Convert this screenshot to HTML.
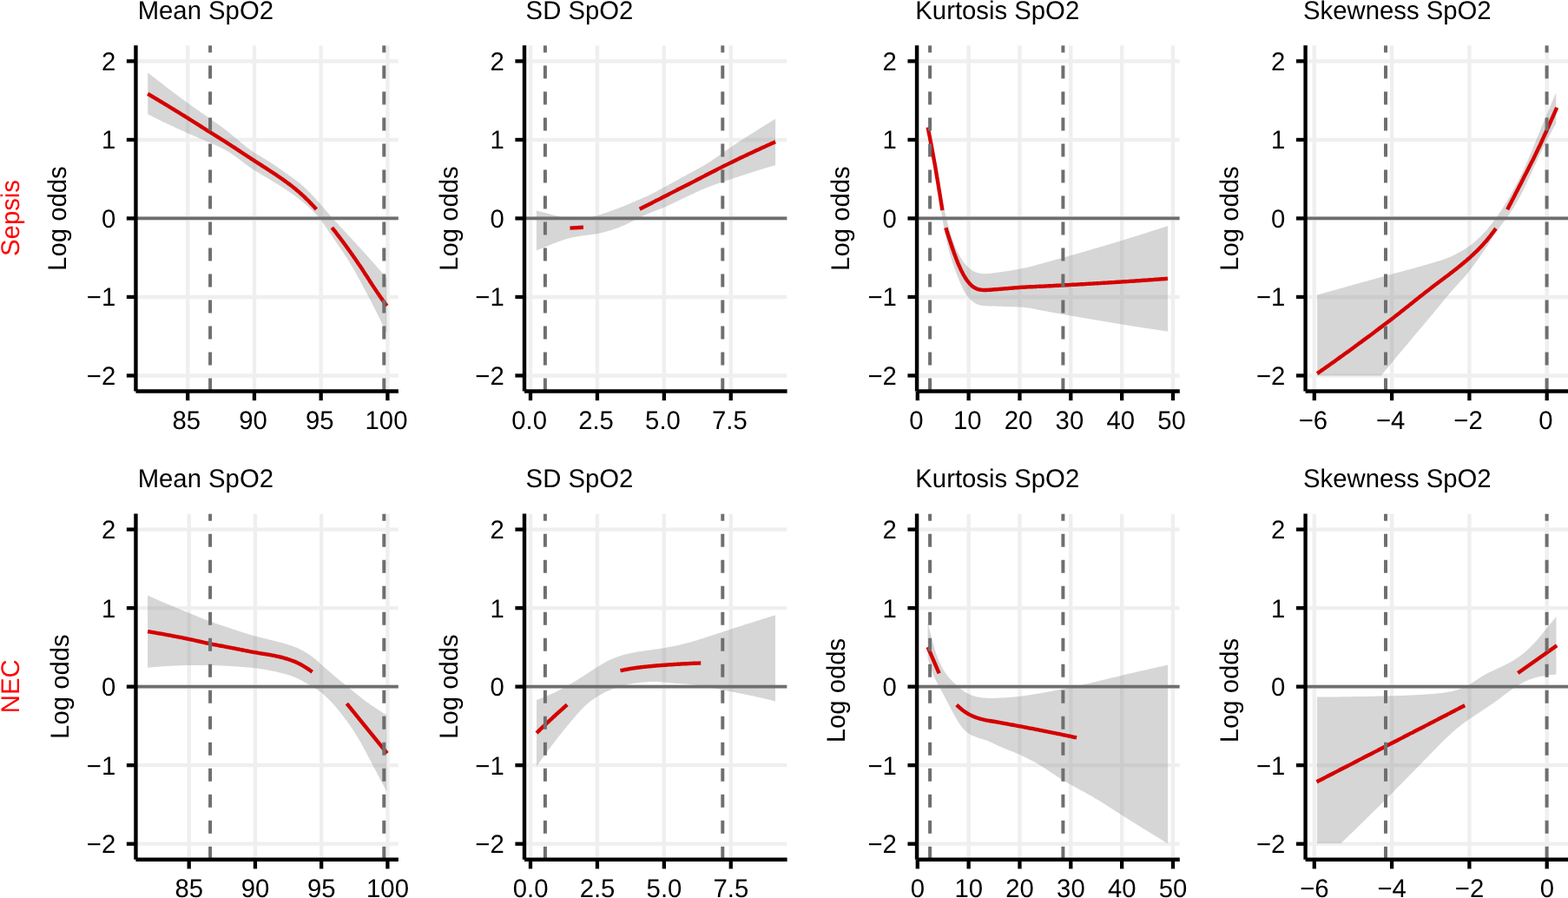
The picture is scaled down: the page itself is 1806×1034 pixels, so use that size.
<!DOCTYPE html>
<html><head><meta charset="utf-8"><style>html,body{margin:0;padding:0;background:#fff;overflow:hidden}svg{display:block}</style></head><body>
<svg width="1806" height="1034" viewBox="0 0 1806 1034">
<rect width="1806" height="1034" fill="#fff"/>
<g font-family="&quot;Liberation Sans&quot;, Arial, Helvetica, sans-serif" font-size="29.3" text-rendering="geometricPrecision">
<text transform="translate(22.4 250.95) rotate(-90) scale(1 1.015)" text-anchor="middle" fill="#FF0000">Sepsis</text>
<g>
<clipPath id="cr0p0"><rect x="156.45" y="52.33" width="302.45" height="398.24"/></clipPath>
<g clip-path="url(#cr0p0)">
<line x1="156.45" x2="458.9" y1="432.47" y2="432.47" stroke="#EFEFEF" stroke-width="4.4"/>
<line x1="156.45" x2="458.9" y1="341.96" y2="341.96" stroke="#EFEFEF" stroke-width="4.4"/>
<line x1="156.45" x2="458.9" y1="251.45" y2="251.45" stroke="#EFEFEF" stroke-width="4.4"/>
<line x1="156.45" x2="458.9" y1="160.94" y2="160.94" stroke="#EFEFEF" stroke-width="4.4"/>
<line x1="156.45" x2="458.9" y1="70.43" y2="70.43" stroke="#EFEFEF" stroke-width="4.4"/>
<line x1="216.2" x2="216.2" y1="52.33" y2="450.57" stroke="#EFEFEF" stroke-width="4.4"/>
<line x1="292.94" x2="292.94" y1="52.33" y2="450.57" stroke="#EFEFEF" stroke-width="4.4"/>
<line x1="369.67" x2="369.67" y1="52.33" y2="450.57" stroke="#EFEFEF" stroke-width="4.4"/>
<line x1="446.4" x2="446.4" y1="52.33" y2="450.57" stroke="#EFEFEF" stroke-width="4.4"/>
<path d="M170.2 83.5 L171.2 84.3 L172.2 85.1 L173.2 85.9 L174.2 86.7 L175.2 87.5 L176.2 88.2 L177.2 89 L178.2 89.8 L179.2 90.6 L180.2 91.4 L181.2 92.2 L182.2 93 L183.2 93.7 L184.2 94.5 L185.2 95.3 L186.2 96.1 L187.2 96.8 L188.2 97.6 L189.2 98.4 L190.2 99.1 L191.2 99.9 L192.2 100.7 L193.2 101.4 L194.2 102.2 L195.2 102.9 L196.2 103.7 L197.2 104.5 L198.2 105.2 L199.2 106 L200.2 106.7 L201.2 107.5 L202.2 108.2 L203.2 109 L204.2 109.7 L205.2 110.5 L206.2 111.2 L207.2 111.9 L208.2 112.7 L209.2 113.4 L210.2 114.2 L211.2 114.9 L212.2 115.6 L213.2 116.4 L214.2 117.1 L215.2 117.8 L216.2 118.6 L217.2 119.3 L218.2 120 L219.2 120.7 L220.2 121.4 L221.2 122.2 L222.2 122.9 L223.2 123.6 L224.2 124.3 L225.2 125 L226.2 125.7 L227.2 126.4 L228.2 127.1 L229.2 127.8 L230.2 128.5 L231.2 129.2 L232.2 129.9 L233.2 130.6 L234.2 131.3 L235.2 132 L236.2 132.7 L237.2 133.4 L238.2 134.1 L239.2 134.8 L240.2 135.5 L241.2 136.2 L242.2 136.9 L243.2 137.6 L244.2 138.3 L245.2 139 L246.2 139.7 L247.2 140.4 L248.2 141.1 L249.2 141.8 L250.2 142.5 L251.2 143.2 L252.2 143.9 L253.2 144.6 L254.2 145.4 L255.2 146.1 L256.2 146.8 L257.2 147.5 L258.2 148.3 L259.2 149 L260.2 149.8 L261.2 150.6 L262.2 151.3 L263.2 152.1 L264.2 152.9 L265.2 153.7 L266.2 154.6 L267.2 155.4 L268.2 156.2 L269.2 157 L270.2 157.9 L271.2 158.7 L272.2 159.6 L273.2 160.4 L274.2 161.3 L275.2 162.1 L276.2 163 L277.2 163.8 L278.2 164.7 L279.2 165.5 L280.2 166.3 L281.2 167.1 L282.2 167.9 L283.2 168.7 L284.2 169.5 L285.2 170.3 L286.2 171 L287.2 171.8 L288.2 172.5 L289.2 173.2 L290.2 173.9 L291.2 174.6 L292.2 175.2 L293.2 175.9 L294.2 176.5 L295.2 177.1 L296.2 177.7 L297.2 178.3 L298.2 178.9 L299.2 179.5 L300.2 180.1 L301.2 180.7 L302.2 181.3 L303.2 181.9 L304.2 182.5 L305.2 183.1 L306.2 183.7 L307.2 184.3 L308.3 184.9 L309.3 185.6 L310.3 186.2 L311.3 186.9 L312.3 187.5 L313.3 188.2 L314.3 188.9 L315.3 189.5 L316.3 190.2 L317.3 190.9 L318.3 191.6 L319.3 192.3 L320.3 193 L321.3 193.7 L322.3 194.4 L323.3 195.1 L324.3 195.8 L325.3 196.5 L326.3 197.2 L327.3 198 L328.3 198.7 L329.3 199.4 L330.3 200.1 L331.3 200.8 L332.3 201.5 L333.3 202.2 L334.3 202.9 L335.3 203.6 L336.3 204.3 L337.3 205 L338.3 205.8 L339.3 206.5 L340.3 207.2 L341.3 208 L342.3 208.7 L343.3 209.5 L344.3 210.3 L345.3 211.1 L346.3 211.9 L347.3 212.8 L348.3 213.7 L349.3 214.5 L350.3 215.4 L351.3 216.4 L352.3 217.3 L353.3 218.3 L354.3 219.3 L355.3 220.3 L356.3 221.3 L357.3 222.3 L358.3 223.4 L359.3 224.4 L360.3 225.5 L361.3 226.5 L362.3 227.6 L363.3 228.7 L364.3 229.8 L365.3 230.9 L366.3 232 L367.3 233.1 L368.3 234.2 L369.3 235.4 L370.3 236.5 L371.3 237.6 L372.3 238.8 L373.3 239.9 L374.3 241.1 L375.3 242.2 L376.3 243.4 L377.3 244.6 L378.3 245.7 L379.3 246.9 L380.3 248.1 L381.3 249.2 L382.3 250.4 L383.3 251.5 L384.3 252.6 L385.3 253.7 L386.3 254.9 L387.3 256 L388.3 257.1 L389.3 258.1 L390.3 259.2 L391.3 260.3 L392.3 261.4 L393.3 262.4 L394.3 263.5 L395.3 264.6 L396.3 265.6 L397.3 266.7 L398.3 267.7 L399.3 268.8 L400.3 269.9 L401.3 271 L402.3 272 L403.3 273.1 L404.3 274.2 L405.3 275.3 L406.3 276.4 L407.3 277.5 L408.3 278.5 L409.3 279.6 L410.3 280.7 L411.3 281.8 L412.3 282.9 L413.3 284 L414.3 285.1 L415.3 286.2 L416.3 287.3 L417.3 288.4 L418.3 289.5 L419.3 290.6 L420.3 291.7 L421.3 292.8 L422.3 293.9 L423.3 295 L424.3 296.1 L425.3 297.2 L426.3 298.3 L427.3 299.4 L428.3 300.5 L429.3 301.7 L430.3 302.8 L431.3 303.9 L432.3 305.1 L433.3 306.2 L434.3 307.4 L435.3 308.5 L436.3 309.7 L437.3 310.8 L438.3 312 L439.3 313.2 L440.3 314.4 L441.3 315.5 L442.3 316.7 L443.3 317.9 L444.3 319.1 L445.3 320.3 L445.3 383.5 L444.3 381.4 L443.3 379.3 L442.3 377.2 L441.3 375.1 L440.3 373 L439.3 370.9 L438.3 368.8 L437.3 366.8 L436.3 364.7 L435.3 362.7 L434.3 360.7 L433.3 358.7 L432.3 356.7 L431.3 354.7 L430.3 352.8 L429.3 350.9 L428.3 348.9 L427.3 347 L426.3 345.1 L425.3 343.2 L424.3 341.3 L423.3 339.4 L422.3 337.6 L421.3 335.7 L420.3 333.8 L419.3 331.9 L418.3 330.1 L417.3 328.2 L416.3 326.3 L415.3 324.5 L414.3 322.6 L413.3 320.8 L412.3 318.9 L411.3 317.1 L410.3 315.3 L409.3 313.5 L408.3 311.7 L407.3 310 L406.3 308.3 L405.3 306.5 L404.3 304.9 L403.3 303.2 L402.3 301.6 L401.3 299.9 L400.3 298.3 L399.3 296.8 L398.3 295.2 L397.3 293.7 L396.3 292.2 L395.3 290.7 L394.3 289.2 L393.3 287.7 L392.3 286.3 L391.3 284.8 L390.3 283.4 L389.3 281.9 L388.3 280.5 L387.3 279.1 L386.3 277.6 L385.3 276.2 L384.3 274.8 L383.3 273.3 L382.3 271.8 L381.3 270.4 L380.3 268.9 L379.3 267.4 L378.3 265.9 L377.3 264.4 L376.3 262.9 L375.3 261.4 L374.3 259.9 L373.3 258.5 L372.3 257.1 L371.3 255.7 L370.3 254.4 L369.3 253.1 L368.3 251.8 L367.3 250.6 L366.3 249.4 L365.3 248.2 L364.3 247.1 L363.3 246 L362.3 245 L361.3 244 L360.3 242.9 L359.3 242 L358.3 241 L357.3 240.1 L356.3 239.1 L355.3 238.2 L354.3 237.3 L353.3 236.4 L352.3 235.6 L351.3 234.7 L350.3 233.9 L349.3 233 L348.3 232.2 L347.3 231.4 L346.3 230.6 L345.3 229.8 L344.3 229 L343.3 228.3 L342.3 227.5 L341.3 226.8 L340.3 226 L339.3 225.3 L338.3 224.6 L337.3 223.8 L336.3 223.1 L335.3 222.4 L334.3 221.7 L333.3 221 L332.3 220.3 L331.3 219.7 L330.3 219 L329.3 218.3 L328.3 217.7 L327.3 217 L326.3 216.3 L325.3 215.7 L324.3 215.1 L323.3 214.4 L322.3 213.8 L321.3 213.1 L320.3 212.5 L319.3 211.9 L318.3 211.3 L317.3 210.7 L316.3 210 L315.3 209.4 L314.3 208.8 L313.3 208.2 L312.3 207.6 L311.3 207 L310.3 206.4 L309.3 205.8 L308.3 205.2 L307.2 204.6 L306.2 204 L305.2 203.4 L304.2 202.8 L303.2 202.2 L302.2 201.6 L301.2 201 L300.2 200.4 L299.2 199.8 L298.2 199.2 L297.2 198.6 L296.2 198 L295.2 197.4 L294.2 196.8 L293.2 196.2 L292.2 195.5 L291.2 194.9 L290.2 194.2 L289.2 193.6 L288.2 192.9 L287.2 192.2 L286.2 191.5 L285.2 190.8 L284.2 190.1 L283.2 189.3 L282.2 188.6 L281.2 187.9 L280.2 187.1 L279.2 186.3 L278.2 185.6 L277.2 184.8 L276.2 184.1 L275.2 183.3 L274.2 182.5 L273.2 181.8 L272.2 181 L271.2 180.3 L270.2 179.6 L269.2 178.8 L268.2 178.1 L267.2 177.4 L266.2 176.8 L265.2 176.1 L264.2 175.4 L263.2 174.8 L262.2 174.2 L261.2 173.6 L260.2 173 L259.2 172.5 L258.2 171.9 L257.2 171.4 L256.2 170.9 L255.2 170.4 L254.2 169.9 L253.2 169.4 L252.2 168.9 L251.2 168.5 L250.2 168 L249.2 167.6 L248.2 167.1 L247.2 166.7 L246.2 166.3 L245.2 165.8 L244.2 165.4 L243.2 164.9 L242.2 164.5 L241.2 164.1 L240.2 163.6 L239.2 163.2 L238.2 162.8 L237.2 162.3 L236.2 161.9 L235.2 161.5 L234.2 161.1 L233.2 160.6 L232.2 160.2 L231.2 159.8 L230.2 159.4 L229.2 158.9 L228.2 158.5 L227.2 158.1 L226.2 157.7 L225.2 157.2 L224.2 156.8 L223.2 156.4 L222.2 156 L221.2 155.5 L220.2 155.1 L219.2 154.7 L218.2 154.2 L217.2 153.8 L216.2 153.3 L215.2 152.9 L214.2 152.4 L213.2 152 L212.2 151.5 L211.2 151.1 L210.2 150.6 L209.2 150.2 L208.2 149.7 L207.2 149.3 L206.2 148.8 L205.2 148.4 L204.2 147.9 L203.2 147.4 L202.2 147 L201.2 146.5 L200.2 146 L199.2 145.6 L198.2 145.1 L197.2 144.6 L196.2 144.2 L195.2 143.7 L194.2 143.2 L193.2 142.8 L192.2 142.3 L191.2 141.8 L190.2 141.3 L189.2 140.9 L188.2 140.4 L187.2 139.9 L186.2 139.4 L185.2 139 L184.2 138.5 L183.2 138 L182.2 137.5 L181.2 137 L180.2 136.5 L179.2 136 L178.2 135.6 L177.2 135.1 L176.2 134.6 L175.2 134.1 L174.2 133.6 L173.2 133.1 L172.2 132.6 L171.2 132.1 L170.2 131.6 Z" fill="#999999" fill-opacity="0.4"/>
<path d="M170.2 108 L171.2 108.6 L172.2 109.2 L173.2 109.8 L174.2 110.4 L175.2 111 L176.2 111.6 L177.2 112.2 L178.2 112.8 L179.2 113.4 L180.2 114 L181.2 114.6 L182.2 115.2 L183.2 115.8 L184.2 116.4 L185.2 117 L186.2 117.6 L187.2 118.2 L188.2 118.8 L189.2 119.4 L190.2 120 L191.2 120.6 L192.2 121.2 L193.2 121.8 L194.2 122.5 L195.2 123.1 L196.2 123.7 L197.2 124.3 L198.2 124.9 L199.2 125.5 L200.2 126.1 L201.2 126.7 L202.2 127.4 L203.3 128 L204.3 128.6 L205.3 129.2 L206.3 129.8 L207.3 130.4 L208.3 131.1 L209.3 131.7 L210.3 132.3 L211.3 132.9 L212.3 133.5 L213.3 134.1 L214.3 134.8 L215.3 135.4 L216.3 136 L217.3 136.6 L218.3 137.3 L219.3 137.9 L220.3 138.5 L221.3 139.2 L222.3 139.8 L223.3 140.4 L224.3 141 L225.3 141.7 L226.3 142.3 L227.3 142.9 L228.3 143.6 L229.3 144.2 L230.3 144.9 L231.3 145.5 L232.3 146.1 L233.3 146.8 L234.3 147.4 L235.3 148 L236.3 148.7 L237.3 149.3 L238.3 149.9 L239.3 150.6 L240.3 151.2 L241.3 151.8 L242.3 152.5 L243.3 153.1 L244.3 153.7 L245.3 154.3 L246.3 155 L247.3 155.6 L248.3 156.2 L249.3 156.8 L250.3 157.4 L251.3 158.1 L252.3 158.7 L253.3 159.3 L254.3 159.9 L255.3 160.6 L256.3 161.2 L257.3 161.8 L258.3 162.5 L259.3 163.1 L260.3 163.7 L261.3 164.4 L262.3 165 L263.3 165.7 L264.3 166.3 L265.3 167 L266.3 167.6 L267.4 168.3 L268.4 168.9 L269.4 169.6 L270.4 170.2 L271.4 170.9 L272.4 171.6 L273.4 172.2 L274.4 172.9 L275.4 173.6 L276.4 174.2 L277.4 174.9 L278.4 175.5 L279.4 176.2 L280.4 176.9 L281.4 177.5 L282.4 178.2 L283.4 178.8 L284.4 179.5 L285.4 180.2 L286.4 180.8 L287.4 181.5 L288.4 182.1 L289.4 182.8 L290.4 183.4 L291.4 184.1 L292.4 184.7 L293.4 185.4 L294.4 186 L295.4 186.7 L296.4 187.3 L297.4 187.9 L298.4 188.6 L299.4 189.2 L300.4 189.9 L301.4 190.5 L302.4 191.1 L303.4 191.8 L304.4 192.4 L305.4 193.1 L306.4 193.7 L307.4 194.4 L308.4 195 L309.4 195.7 L310.4 196.3 L311.4 197 L312.4 197.7 L313.4 198.3 L314.4 199 L315.4 199.6 L316.4 200.3 L317.4 201 L318.4 201.6 L319.4 202.3 L320.4 203 L321.4 203.7 L322.4 204.3 L323.4 205 L324.4 205.7 L325.4 206.4 L326.4 207.1 L327.4 207.9 L328.4 208.6 L329.4 209.3 L330.4 210.1 L331.4 210.8 L332.5 211.6 L333.5 212.3 L334.5 213.1 L335.5 213.8 L336.5 214.6 L337.5 215.4 L338.5 216.2 L339.5 217 L340.5 217.8 L341.5 218.7 L342.5 219.5 L343.5 220.4 L344.5 221.2 L345.5 222.1 L346.5 223 L347.5 223.9 L348.5 224.8 L349.5 225.7 L350.5 226.6 L351.5 227.6 L352.5 228.6 L353.5 229.5 L354.5 230.5 L355.5 231.5 L356.5 232.6 L357.5 233.6 L358.5 234.6 L359.5 235.7 L360.5 236.8 L361.5 237.8 L362.5 238.9 L363.5 240 L364.5 241.1" fill="none" stroke="#D40000" stroke-width="4.4"/>
<path d="M382.4 262 L383.4 263.3 L384.4 264.6 L385.4 265.9 L386.4 267.2 L387.4 268.5 L388.4 269.8 L389.4 271.1 L390.4 272.4 L391.4 273.7 L392.4 275 L393.4 276.4 L394.4 277.7 L395.4 279 L396.4 280.4 L397.4 281.8 L398.4 283.1 L399.4 284.5 L400.4 285.9 L401.4 287.3 L402.4 288.6 L403.4 290 L404.4 291.4 L405.4 292.9 L406.4 294.3 L407.4 295.7 L408.4 297.1 L409.4 298.6 L410.4 300.1 L411.4 301.5 L412.4 303 L413.4 304.5 L414.5 306 L415.5 307.5 L416.5 309 L417.5 310.5 L418.5 312.1 L419.5 313.6 L420.5 315.2 L421.5 316.7 L422.5 318.3 L423.5 319.8 L424.5 321.4 L425.5 322.9 L426.5 324.5 L427.5 326 L428.5 327.6 L429.5 329.1 L430.5 330.6 L431.5 332.1 L432.5 333.6 L433.5 335.1 L434.5 336.6 L435.5 338.1 L436.5 339.5 L437.5 341 L438.5 342.4 L439.5 343.9 L440.5 345.3 L441.5 346.7 L442.5 348.1 L443.5 349.5 L444.5 350.9 L445.5 352.3" fill="none" stroke="#D40000" stroke-width="4.4"/>
<line x1="156.45" x2="458.9" y1="251.45" y2="251.45" stroke="#6E6E6E" stroke-width="3.8"/>
<line x1="242.1" x2="242.1" y1="450.57" y2="52.33" stroke="#6F6F6F" stroke-width="4.0" stroke-dasharray="15 15"/>
<line x1="442.3" x2="442.3" y1="450.57" y2="52.33" stroke="#6F6F6F" stroke-width="4.0" stroke-dasharray="15 15"/>
</g>
<line x1="156.45" x2="156.45" y1="52.33" y2="450.57" stroke="#000" stroke-width="4.4"/>
<line x1="156.45" x2="458.9" y1="450.57" y2="450.57" stroke="#000" stroke-width="4.4"/>
<line x1="145.85" x2="156.45" y1="432.47" y2="432.47" stroke="#000" stroke-width="4.3"/>
<text transform="translate(133.2 442.87) scale(1 1.015)" text-anchor="end">−2</text>
<line x1="145.85" x2="156.45" y1="341.96" y2="341.96" stroke="#000" stroke-width="4.3"/>
<text transform="translate(133.2 352.36) scale(1 1.015)" text-anchor="end">−1</text>
<line x1="145.85" x2="156.45" y1="251.45" y2="251.45" stroke="#000" stroke-width="4.3"/>
<text transform="translate(133.2 261.85) scale(1 1.015)" text-anchor="end">0</text>
<line x1="145.85" x2="156.45" y1="160.94" y2="160.94" stroke="#000" stroke-width="4.3"/>
<text transform="translate(133.2 171.34) scale(1 1.015)" text-anchor="end">1</text>
<line x1="145.85" x2="156.45" y1="70.43" y2="70.43" stroke="#000" stroke-width="4.3"/>
<text transform="translate(133.2 80.83) scale(1 1.015)" text-anchor="end">2</text>
<line x1="216.2" x2="216.2" y1="450.57" y2="461.17" stroke="#000" stroke-width="4.3"/>
<text transform="translate(214.8 494) scale(1 1.015)" text-anchor="middle">85</text>
<line x1="292.94" x2="292.94" y1="450.57" y2="461.17" stroke="#000" stroke-width="4.3"/>
<text transform="translate(291.54 494) scale(1 1.015)" text-anchor="middle">90</text>
<line x1="369.67" x2="369.67" y1="450.57" y2="461.17" stroke="#000" stroke-width="4.3"/>
<text transform="translate(368.27 494) scale(1 1.015)" text-anchor="middle">95</text>
<line x1="446.4" x2="446.4" y1="450.57" y2="461.17" stroke="#000" stroke-width="4.3"/>
<text transform="translate(445 494) scale(1 1.015)" text-anchor="middle">100</text>
<text transform="translate(76.1 251.6) rotate(-90) scale(1 1.015)" text-anchor="middle">Log odds</text>
<text transform="translate(158.65 21.7) scale(1 1.015)">Mean SpO2</text>
</g>
<g>
<clipPath id="cr0p1"><rect x="604" y="52.33" width="302.6" height="398.24"/></clipPath>
<g clip-path="url(#cr0p1)">
<line x1="604" x2="906.6" y1="432.47" y2="432.47" stroke="#EFEFEF" stroke-width="4.4"/>
<line x1="604" x2="906.6" y1="341.96" y2="341.96" stroke="#EFEFEF" stroke-width="4.4"/>
<line x1="604" x2="906.6" y1="251.45" y2="251.45" stroke="#EFEFEF" stroke-width="4.4"/>
<line x1="604" x2="906.6" y1="160.94" y2="160.94" stroke="#EFEFEF" stroke-width="4.4"/>
<line x1="604" x2="906.6" y1="70.43" y2="70.43" stroke="#EFEFEF" stroke-width="4.4"/>
<line x1="611" x2="611" y1="52.33" y2="450.57" stroke="#EFEFEF" stroke-width="4.4"/>
<line x1="687.92" x2="687.92" y1="52.33" y2="450.57" stroke="#EFEFEF" stroke-width="4.4"/>
<line x1="764.85" x2="764.85" y1="52.33" y2="450.57" stroke="#EFEFEF" stroke-width="4.4"/>
<line x1="841.77" x2="841.77" y1="52.33" y2="450.57" stroke="#EFEFEF" stroke-width="4.4"/>
<path d="M617.9 242.4 L618.9 242.7 L619.9 242.9 L620.9 243.2 L621.9 243.5 L622.9 243.7 L623.9 244 L624.9 244.2 L625.9 244.5 L626.9 244.8 L627.9 245 L628.9 245.3 L629.9 245.6 L630.9 245.9 L631.9 246.1 L632.9 246.4 L633.9 246.7 L634.9 246.9 L635.9 247.2 L636.9 247.5 L637.9 247.7 L638.9 248 L639.9 248.2 L640.9 248.5 L641.9 248.7 L642.9 249 L643.9 249.2 L644.9 249.4 L645.9 249.6 L646.9 249.9 L647.9 250 L648.9 250.2 L649.9 250.4 L650.9 250.6 L651.9 250.7 L652.9 250.8 L653.9 250.9 L654.9 251 L655.9 251.1 L656.9 251.2 L657.9 251.2 L658.9 251.3 L659.9 251.3 L660.9 251.3 L661.9 251.4 L662.9 251.4 L663.9 251.4 L664.9 251.4 L665.9 251.4 L666.9 251.4 L667.9 251.4 L668.9 251.4 L669.9 251.3 L670.9 251.3 L671.9 251.2 L672.9 251.1 L673.9 251 L674.9 250.9 L675.9 250.8 L676.9 250.6 L677.9 250.5 L678.9 250.3 L679.9 250.1 L680.9 249.9 L681.9 249.7 L682.9 249.4 L683.9 249.2 L684.9 249 L685.9 248.7 L687 248.5 L688 248.2 L689 247.9 L690 247.6 L691 247.3 L692 247 L693 246.6 L694 246.3 L695 246 L696 245.6 L697 245.3 L698 244.9 L699 244.6 L700 244.2 L701 243.9 L702 243.5 L703 243.1 L704 242.8 L705 242.4 L706 242.1 L707 241.7 L708 241.3 L709 240.9 L710 240.6 L711 240.2 L712 239.8 L713 239.4 L714 239 L715 238.7 L716 238.3 L717 237.9 L718 237.5 L719 237.1 L720 236.7 L721 236.2 L722 235.8 L723 235.4 L724 235 L725 234.6 L726 234.1 L727 233.7 L728 233.3 L729 232.8 L730 232.4 L731 232 L732 231.5 L733 231.1 L734 230.7 L735 230.2 L736 229.8 L737 229.4 L738 229 L739 228.5 L740 228.1 L741 227.6 L742 227.2 L743 226.8 L744 226.3 L745 225.9 L746 225.4 L747 224.9 L748 224.4 L749 224 L750 223.5 L751 223 L752 222.5 L753 221.9 L754 221.4 L755 220.9 L756 220.4 L757 219.9 L758 219.3 L759 218.8 L760 218.2 L761 217.7 L762 217.2 L763 216.6 L764 216.1 L765 215.6 L766 215 L767 214.5 L768 213.9 L769 213.4 L770 212.8 L771 212.3 L772 211.8 L773 211.2 L774 210.7 L775 210.1 L776 209.6 L777 209 L778 208.5 L779 207.9 L780 207.4 L781 206.8 L782 206.3 L783 205.7 L784 205.2 L785 204.6 L786 204.1 L787 203.5 L788 203 L789 202.4 L790 201.9 L791 201.3 L792 200.8 L793 200.2 L794 199.7 L795 199.2 L796 198.6 L797 198.1 L798 197.5 L799 197 L800 196.5 L801 195.9 L802 195.4 L803 194.8 L804 194.3 L805 193.7 L806 193.2 L807 192.6 L808 192.1 L809 191.5 L810 190.9 L811 190.3 L812 189.7 L813 189.1 L814 188.5 L815 187.9 L816 187.3 L817 186.7 L818 186 L819 185.4 L820 184.7 L821 184 L822 183.3 L823 182.6 L824 181.9 L825.1 181.2 L826.1 180.5 L827.1 179.8 L828.1 179.1 L829.1 178.4 L830.1 177.7 L831.1 177 L832.1 176.2 L833.1 175.5 L834.1 174.8 L835.1 174.1 L836.1 173.4 L837.1 172.7 L838.1 172 L839.1 171.3 L840.1 170.6 L841.1 169.9 L842.1 169.3 L843.1 168.6 L844.1 167.9 L845.1 167.2 L846.1 166.6 L847.1 165.9 L848.1 165.3 L849.1 164.6 L850.1 164 L851.1 163.3 L852.1 162.6 L853.1 162 L854.1 161.3 L855.1 160.7 L856.1 160.1 L857.1 159.4 L858.1 158.8 L859.1 158.1 L860.1 157.5 L861.1 156.9 L862.1 156.2 L863.1 155.6 L864.1 154.9 L865.1 154.3 L866.1 153.7 L867.1 153 L868.1 152.4 L869.1 151.8 L870.1 151.1 L871.1 150.5 L872.1 149.9 L873.1 149.2 L874.1 148.6 L875.1 148 L876.1 147.4 L877.1 146.7 L878.1 146.1 L879.1 145.5 L880.1 144.9 L881.1 144.3 L882.1 143.6 L883.1 143 L884.1 142.4 L885.1 141.8 L886.1 141.2 L887.1 140.6 L888.1 140 L889.1 139.3 L890.1 138.7 L891.1 138.1 L892.1 137.5 L893.1 136.9 L893.1 190.1 L892.1 190.4 L891.1 190.7 L890.1 191 L889.1 191.3 L888.1 191.6 L887.1 191.9 L886.1 192.2 L885.1 192.5 L884.1 192.8 L883.1 193.1 L882.1 193.4 L881.1 193.7 L880.1 194 L879.1 194.3 L878.1 194.6 L877.1 194.9 L876.1 195.3 L875.1 195.6 L874.1 195.9 L873.1 196.2 L872.1 196.5 L871.1 196.8 L870.1 197.1 L869.1 197.4 L868.1 197.8 L867.1 198.1 L866.1 198.4 L865.1 198.7 L864.1 199 L863.1 199.3 L862.1 199.7 L861.1 200 L860.1 200.3 L859.1 200.6 L858.1 200.9 L857.1 201.3 L856.1 201.6 L855.1 201.9 L854.1 202.2 L853.1 202.6 L852.1 202.9 L851.1 203.2 L850.1 203.6 L849.1 203.9 L848.1 204.2 L847.1 204.5 L846.1 204.9 L845.1 205.2 L844.1 205.5 L843.1 205.9 L842.1 206.2 L841.1 206.5 L840.1 206.9 L839.1 207.2 L838.1 207.6 L837.1 207.9 L836.1 208.2 L835.1 208.6 L834.1 208.9 L833.1 209.2 L832.1 209.6 L831.1 209.9 L830.1 210.2 L829.1 210.6 L828.1 210.9 L827.1 211.3 L826.1 211.6 L825.1 212 L824 212.3 L823 212.7 L822 213 L821 213.4 L820 213.8 L819 214.2 L818 214.5 L817 214.9 L816 215.3 L815 215.7 L814 216.1 L813 216.5 L812 216.9 L811 217.3 L810 217.8 L809 218.2 L808 218.6 L807 219.1 L806 219.5 L805 220 L804 220.4 L803 220.9 L802 221.3 L801 221.8 L800 222.3 L799 222.7 L798 223.2 L797 223.7 L796 224.1 L795 224.6 L794 225.1 L793 225.5 L792 226 L791 226.5 L790 226.9 L789 227.4 L788 227.9 L787 228.4 L786 228.9 L785 229.3 L784 229.8 L783 230.3 L782 230.8 L781 231.3 L780 231.8 L779 232.3 L778 232.8 L777 233.3 L776 233.7 L775 234.2 L774 234.7 L773 235.2 L772 235.6 L771 236.1 L770 236.6 L769 237 L768 237.5 L767 237.9 L766 238.3 L765 238.7 L764 239.2 L763 239.6 L762 240 L761 240.4 L760 240.7 L759 241.1 L758 241.5 L757 241.9 L756 242.3 L755 242.7 L754 243.1 L753 243.5 L752 243.9 L751 244.3 L750 244.7 L749 245.1 L748 245.5 L747 245.9 L746 246.4 L745 246.8 L744 247.3 L743 247.7 L742 248.2 L741 248.6 L740 249.1 L739 249.6 L738 250 L737 250.5 L736 251 L735 251.5 L734 252 L733 252.5 L732 253 L731 253.5 L730 254 L729 254.5 L728 255 L727 255.5 L726 256 L725 256.5 L724 257 L723 257.5 L722 258 L721 258.4 L720 258.9 L719 259.3 L718 259.8 L717 260.2 L716 260.6 L715 261 L714 261.4 L713 261.8 L712 262.2 L711 262.5 L710 262.9 L709 263.2 L708 263.6 L707 263.9 L706 264.2 L705 264.6 L704 264.9 L703 265.2 L702 265.5 L701 265.8 L700 266.1 L699 266.4 L698 266.7 L697 267 L696 267.2 L695 267.5 L694 267.7 L693 268 L692 268.2 L691 268.4 L690 268.7 L689 268.9 L688 269 L687 269.2 L685.9 269.4 L684.9 269.5 L683.9 269.7 L682.9 269.8 L681.9 270 L680.9 270.1 L679.9 270.2 L678.9 270.4 L677.9 270.5 L676.9 270.6 L675.9 270.8 L674.9 270.9 L673.9 271 L672.9 271.2 L671.9 271.3 L670.9 271.5 L669.9 271.6 L668.9 271.7 L667.9 271.9 L666.9 272 L665.9 272.2 L664.9 272.4 L663.9 272.5 L662.9 272.7 L661.9 272.9 L660.9 273.1 L659.9 273.3 L658.9 273.5 L657.9 273.7 L656.9 274 L655.9 274.2 L654.9 274.5 L653.9 274.8 L652.9 275.1 L651.9 275.4 L650.9 275.7 L649.9 276 L648.9 276.3 L647.9 276.6 L646.9 277 L645.9 277.3 L644.9 277.7 L643.9 278 L642.9 278.4 L641.9 278.7 L640.9 279.1 L639.9 279.5 L638.9 279.9 L637.9 280.2 L636.9 280.6 L635.9 281 L634.9 281.4 L633.9 281.8 L632.9 282.2 L631.9 282.7 L630.9 283.1 L629.9 283.5 L628.9 283.9 L627.9 284.3 L626.9 284.7 L625.9 285.1 L624.9 285.5 L623.9 286 L622.9 286.4 L621.9 286.8 L620.9 287.2 L619.9 287.7 L618.9 288.1 L617.9 288.5 Z" fill="#999999" fill-opacity="0.4"/>
<path d="M656.5 262.6 L671.9 261.7" fill="none" stroke="#D40000" stroke-width="4.4"/>
<path d="M736.7 240.8 L737.7 240.3 L738.7 239.8 L739.7 239.3 L740.7 238.8 L741.7 238.3 L742.7 237.7 L743.7 237.2 L744.7 236.7 L745.7 236.2 L746.7 235.7 L747.7 235.2 L748.7 234.7 L749.7 234.2 L750.7 233.7 L751.7 233.1 L752.7 232.6 L753.7 232.1 L754.7 231.6 L755.7 231.1 L756.8 230.6 L757.8 230.1 L758.8 229.6 L759.8 229.1 L760.8 228.6 L761.8 228 L762.8 227.5 L763.8 227 L764.8 226.5 L765.8 226 L766.8 225.5 L767.8 225 L768.8 224.5 L769.8 224 L770.8 223.4 L771.8 222.9 L772.8 222.4 L773.8 221.9 L774.8 221.4 L775.8 220.9 L776.8 220.4 L777.8 219.9 L778.8 219.4 L779.8 218.8 L780.8 218.3 L781.8 217.8 L782.8 217.3 L783.8 216.8 L784.8 216.3 L785.8 215.8 L786.8 215.3 L787.8 214.8 L788.8 214.2 L789.8 213.7 L790.8 213.2 L791.8 212.7 L792.8 212.2 L793.8 211.7 L794.8 211.2 L795.9 210.6 L796.9 210.1 L797.9 209.6 L798.9 209.1 L799.9 208.6 L800.9 208.1 L801.9 207.5 L802.9 207 L803.9 206.5 L804.9 206 L805.9 205.5 L806.9 205 L807.9 204.4 L808.9 203.9 L809.9 203.4 L810.9 202.9 L811.9 202.4 L812.9 201.8 L813.9 201.3 L814.9 200.8 L815.9 200.3 L816.9 199.8 L817.9 199.2 L818.9 198.7 L819.9 198.2 L820.9 197.7 L821.9 197.2 L822.9 196.7 L823.9 196.2 L824.9 195.7 L825.9 195.1 L826.9 194.6 L827.9 194.1 L828.9 193.6 L829.9 193.1 L830.9 192.6 L831.9 192.1 L832.9 191.6 L833.9 191.1 L835 190.6 L836 190.1 L837 189.6 L838 189.1 L839 188.6 L840 188.1 L841 187.6 L842 187.1 L843 186.7 L844 186.2 L845 185.7 L846 185.2 L847 184.7 L848 184.2 L849 183.7 L850 183.3 L851 182.8 L852 182.3 L853 181.8 L854 181.3 L855 180.9 L856 180.4 L857 179.9 L858 179.4 L859 179 L860 178.5 L861 178 L862 177.5 L863 177.1 L864 176.6 L865 176.1 L866 175.7 L867 175.2 L868 174.7 L869 174.3 L870 173.8 L871 173.3 L872 172.9 L873 172.4 L874.1 171.9 L875.1 171.5 L876.1 171 L877.1 170.5 L878.1 170.1 L879.1 169.6 L880.1 169.2 L881.1 168.7 L882.1 168.3 L883.1 167.8 L884.1 167.4 L885.1 166.9 L886.1 166.4 L887.1 166 L888.1 165.5 L889.1 165.1 L890.1 164.6 L891.1 164.2 L892.1 163.7 L893.1 163.3" fill="none" stroke="#D40000" stroke-width="4.4"/>
<line x1="604" x2="906.6" y1="251.45" y2="251.45" stroke="#6E6E6E" stroke-width="3.8"/>
<line x1="627.9" x2="627.9" y1="450.57" y2="52.33" stroke="#6F6F6F" stroke-width="4.0" stroke-dasharray="15 15"/>
<line x1="832.3" x2="832.3" y1="450.57" y2="52.33" stroke="#6F6F6F" stroke-width="4.0" stroke-dasharray="15 15"/>
</g>
<line x1="604" x2="604" y1="52.33" y2="450.57" stroke="#000" stroke-width="4.4"/>
<line x1="604" x2="906.6" y1="450.57" y2="450.57" stroke="#000" stroke-width="4.4"/>
<line x1="593.4" x2="604" y1="432.47" y2="432.47" stroke="#000" stroke-width="4.3"/>
<text transform="translate(580.75 442.87) scale(1 1.015)" text-anchor="end">−2</text>
<line x1="593.4" x2="604" y1="341.96" y2="341.96" stroke="#000" stroke-width="4.3"/>
<text transform="translate(580.75 352.36) scale(1 1.015)" text-anchor="end">−1</text>
<line x1="593.4" x2="604" y1="251.45" y2="251.45" stroke="#000" stroke-width="4.3"/>
<text transform="translate(580.75 261.85) scale(1 1.015)" text-anchor="end">0</text>
<line x1="593.4" x2="604" y1="160.94" y2="160.94" stroke="#000" stroke-width="4.3"/>
<text transform="translate(580.75 171.34) scale(1 1.015)" text-anchor="end">1</text>
<line x1="593.4" x2="604" y1="70.43" y2="70.43" stroke="#000" stroke-width="4.3"/>
<text transform="translate(580.75 80.83) scale(1 1.015)" text-anchor="end">2</text>
<line x1="611" x2="611" y1="450.57" y2="461.17" stroke="#000" stroke-width="4.3"/>
<text transform="translate(609.6 494) scale(1 1.015)" text-anchor="middle">0.0</text>
<line x1="687.92" x2="687.92" y1="450.57" y2="461.17" stroke="#000" stroke-width="4.3"/>
<text transform="translate(686.52 494) scale(1 1.015)" text-anchor="middle">2.5</text>
<line x1="764.85" x2="764.85" y1="450.57" y2="461.17" stroke="#000" stroke-width="4.3"/>
<text transform="translate(763.45 494) scale(1 1.015)" text-anchor="middle">5.0</text>
<line x1="841.77" x2="841.77" y1="450.57" y2="461.17" stroke="#000" stroke-width="4.3"/>
<text transform="translate(840.38 494) scale(1 1.015)" text-anchor="middle">7.5</text>
<text transform="translate(527.2 251.6) rotate(-90) scale(1 1.015)" text-anchor="middle">Log odds</text>
<text transform="translate(605.6 21.7) scale(1 1.015)">SD SpO2</text>
</g>
<g>
<clipPath id="cr0p2"><rect x="1056.05" y="52.33" width="302.75" height="398.24"/></clipPath>
<g clip-path="url(#cr0p2)">
<line x1="1056.05" x2="1358.8" y1="432.47" y2="432.47" stroke="#EFEFEF" stroke-width="4.4"/>
<line x1="1056.05" x2="1358.8" y1="341.96" y2="341.96" stroke="#EFEFEF" stroke-width="4.4"/>
<line x1="1056.05" x2="1358.8" y1="251.45" y2="251.45" stroke="#EFEFEF" stroke-width="4.4"/>
<line x1="1056.05" x2="1358.8" y1="160.94" y2="160.94" stroke="#EFEFEF" stroke-width="4.4"/>
<line x1="1056.05" x2="1358.8" y1="70.43" y2="70.43" stroke="#EFEFEF" stroke-width="4.4"/>
<line x1="1056.8" x2="1056.8" y1="52.33" y2="450.57" stroke="#EFEFEF" stroke-width="4.4"/>
<line x1="1115.64" x2="1115.64" y1="52.33" y2="450.57" stroke="#EFEFEF" stroke-width="4.4"/>
<line x1="1174.48" x2="1174.48" y1="52.33" y2="450.57" stroke="#EFEFEF" stroke-width="4.4"/>
<line x1="1233.32" x2="1233.32" y1="52.33" y2="450.57" stroke="#EFEFEF" stroke-width="4.4"/>
<line x1="1292.16" x2="1292.16" y1="52.33" y2="450.57" stroke="#EFEFEF" stroke-width="4.4"/>
<line x1="1351" x2="1351" y1="52.33" y2="450.57" stroke="#EFEFEF" stroke-width="4.4"/>
<path d="M1068.6 143.5 L1069.6 148.2 L1070.6 152.9 L1071.6 157.6 L1072.6 162.5 L1073.6 167.4 L1074.6 172.4 L1075.6 177.6 L1076.6 182.8 L1077.6 188.2 L1078.6 193.7 L1079.6 199.2 L1080.6 204.8 L1081.6 210.3 L1082.6 215.8 L1083.6 221.2 L1084.6 226.4 L1085.6 231.5 L1086.6 236.4 L1087.6 241 L1088.6 245.4 L1089.6 249.6 L1090.6 253.6 L1091.6 257.5 L1092.6 261.2 L1093.6 264.7 L1094.6 268.1 L1095.6 271.3 L1096.6 274.3 L1097.6 277.2 L1098.6 280 L1099.6 282.6 L1100.6 285 L1101.6 287.4 L1102.6 289.5 L1103.7 291.6 L1104.7 293.5 L1105.7 295.4 L1106.7 297.1 L1107.7 298.7 L1108.7 300.2 L1109.7 301.6 L1110.7 302.9 L1111.7 304.1 L1112.7 305.3 L1113.7 306.3 L1114.7 307.3 L1115.7 308.2 L1116.7 309.1 L1117.7 309.9 L1118.7 310.6 L1119.7 311.3 L1120.7 311.9 L1121.7 312.4 L1122.7 312.9 L1123.7 313.4 L1124.7 313.8 L1125.7 314.1 L1126.7 314.4 L1127.7 314.6 L1128.7 314.8 L1129.7 315 L1130.7 315.1 L1131.7 315.2 L1132.7 315.2 L1133.7 315.2 L1134.7 315.2 L1135.7 315.2 L1136.7 315.1 L1137.7 315.1 L1138.7 315 L1139.7 314.9 L1140.7 314.8 L1141.7 314.7 L1142.7 314.5 L1143.7 314.4 L1144.7 314.3 L1145.7 314.1 L1146.7 314 L1147.7 313.9 L1148.7 313.7 L1149.7 313.6 L1150.7 313.5 L1151.7 313.3 L1152.7 313.2 L1153.7 313 L1154.7 312.9 L1155.7 312.8 L1156.7 312.6 L1157.7 312.5 L1158.7 312.3 L1159.7 312.2 L1160.7 312 L1161.7 311.9 L1162.7 311.7 L1163.7 311.5 L1164.7 311.4 L1165.7 311.2 L1166.7 311 L1167.7 310.9 L1168.7 310.7 L1169.7 310.5 L1170.7 310.3 L1171.7 310.2 L1172.8 310 L1173.8 309.8 L1174.8 309.6 L1175.8 309.4 L1176.8 309.2 L1177.8 309 L1178.8 308.8 L1179.8 308.6 L1180.8 308.4 L1181.8 308.2 L1182.8 307.9 L1183.8 307.7 L1184.8 307.5 L1185.8 307.2 L1186.8 307 L1187.8 306.7 L1188.8 306.5 L1189.8 306.2 L1190.8 305.9 L1191.8 305.7 L1192.8 305.4 L1193.8 305.1 L1194.8 304.8 L1195.8 304.6 L1196.8 304.3 L1197.8 304 L1198.8 303.7 L1199.8 303.5 L1200.8 303.2 L1201.8 302.9 L1202.8 302.6 L1203.8 302.4 L1204.8 302.1 L1205.8 301.8 L1206.8 301.5 L1207.8 301.3 L1208.8 301 L1209.8 300.7 L1210.8 300.4 L1211.8 300.2 L1212.8 299.9 L1213.8 299.6 L1214.8 299.3 L1215.8 299 L1216.8 298.8 L1217.8 298.5 L1218.8 298.2 L1219.8 297.9 L1220.8 297.7 L1221.8 297.4 L1222.8 297.1 L1223.8 296.8 L1224.8 296.5 L1225.8 296.3 L1226.8 296 L1227.8 295.7 L1228.8 295.4 L1229.8 295.1 L1230.8 294.9 L1231.8 294.6 L1232.8 294.3 L1233.8 294 L1234.8 293.7 L1235.8 293.4 L1236.8 293.2 L1237.8 292.9 L1238.8 292.6 L1239.8 292.3 L1240.8 292 L1241.9 291.7 L1242.9 291.4 L1243.9 291.2 L1244.9 290.9 L1245.9 290.6 L1246.9 290.3 L1247.9 290 L1248.9 289.7 L1249.9 289.4 L1250.9 289.1 L1251.9 288.9 L1252.9 288.6 L1253.9 288.3 L1254.9 288 L1255.9 287.7 L1256.9 287.4 L1257.9 287.1 L1258.9 286.8 L1259.9 286.5 L1260.9 286.2 L1261.9 285.9 L1262.9 285.7 L1263.9 285.4 L1264.9 285.1 L1265.9 284.8 L1266.9 284.5 L1267.9 284.2 L1268.9 283.9 L1269.9 283.6 L1270.9 283.3 L1271.9 283 L1272.9 282.7 L1273.9 282.4 L1274.9 282.1 L1275.9 281.8 L1276.9 281.5 L1277.9 281.2 L1278.9 280.9 L1279.9 280.6 L1280.9 280.3 L1281.9 280 L1282.9 279.7 L1283.9 279.4 L1284.9 279.1 L1285.9 278.8 L1286.9 278.5 L1287.9 278.2 L1288.9 277.9 L1289.9 277.6 L1290.9 277.3 L1291.9 277 L1292.9 276.7 L1293.9 276.4 L1294.9 276.1 L1295.9 275.8 L1296.9 275.4 L1297.9 275.1 L1298.9 274.8 L1299.9 274.5 L1300.9 274.2 L1301.9 273.9 L1302.9 273.6 L1303.9 273.3 L1304.9 273 L1305.9 272.7 L1306.9 272.3 L1307.9 272 L1308.9 271.7 L1309.9 271.4 L1311 271.1 L1312 270.8 L1313 270.5 L1314 270.1 L1315 269.8 L1316 269.5 L1317 269.2 L1318 268.9 L1319 268.6 L1320 268.2 L1321 267.9 L1322 267.6 L1323 267.3 L1324 267 L1325 266.6 L1326 266.3 L1327 266 L1328 265.7 L1329 265.3 L1330 265 L1331 264.7 L1332 264.4 L1333 264 L1334 263.7 L1335 263.4 L1336 263.1 L1337 262.7 L1338 262.4 L1339 262.1 L1340 261.8 L1341 261.4 L1342 261.1 L1343 260.8 L1344 260.4 L1345 260.1 L1345 381.6 L1344 381.5 L1343 381.3 L1342 381.2 L1341 381 L1340 380.9 L1339 380.7 L1338 380.6 L1337 380.4 L1336 380.3 L1335 380.1 L1334 380 L1333 379.8 L1332 379.7 L1331 379.5 L1330 379.4 L1329 379.2 L1328 379.1 L1327 378.9 L1326 378.8 L1325 378.6 L1324 378.5 L1323 378.3 L1322 378.2 L1321 378 L1320 377.9 L1319 377.7 L1318 377.6 L1317 377.4 L1316 377.3 L1315 377.1 L1314 376.9 L1313 376.8 L1312 376.6 L1311 376.5 L1309.9 376.3 L1308.9 376.2 L1307.9 376 L1306.9 375.9 L1305.9 375.7 L1304.9 375.5 L1303.9 375.4 L1302.9 375.2 L1301.9 375.1 L1300.9 374.9 L1299.9 374.7 L1298.9 374.6 L1297.9 374.4 L1296.9 374.3 L1295.9 374.1 L1294.9 373.9 L1293.9 373.8 L1292.9 373.6 L1291.9 373.4 L1290.9 373.3 L1289.9 373.1 L1288.9 373 L1287.9 372.8 L1286.9 372.6 L1285.9 372.5 L1284.9 372.3 L1283.9 372.1 L1282.9 372 L1281.9 371.8 L1280.9 371.6 L1279.9 371.5 L1278.9 371.3 L1277.9 371.2 L1276.9 371 L1275.9 370.8 L1274.9 370.7 L1273.9 370.5 L1272.9 370.3 L1271.9 370.1 L1270.9 370 L1269.9 369.8 L1268.9 369.6 L1267.9 369.5 L1266.9 369.3 L1265.9 369.1 L1264.9 369 L1263.9 368.8 L1262.9 368.6 L1261.9 368.5 L1260.9 368.3 L1259.9 368.1 L1258.9 367.9 L1257.9 367.8 L1256.9 367.6 L1255.9 367.4 L1254.9 367.3 L1253.9 367.1 L1252.9 366.9 L1251.9 366.7 L1250.9 366.6 L1249.9 366.4 L1248.9 366.2 L1247.9 366.1 L1246.9 365.9 L1245.9 365.7 L1244.9 365.5 L1243.9 365.4 L1242.9 365.2 L1241.9 365 L1240.8 364.8 L1239.8 364.7 L1238.8 364.5 L1237.8 364.3 L1236.8 364.1 L1235.8 364 L1234.8 363.8 L1233.8 363.6 L1232.8 363.4 L1231.8 363.3 L1230.8 363.1 L1229.8 362.9 L1228.8 362.7 L1227.8 362.6 L1226.8 362.4 L1225.8 362.2 L1224.8 362 L1223.8 361.9 L1222.8 361.7 L1221.8 361.5 L1220.8 361.3 L1219.8 361.1 L1218.8 361 L1217.8 360.8 L1216.8 360.6 L1215.8 360.4 L1214.8 360.3 L1213.8 360.1 L1212.8 359.9 L1211.8 359.7 L1210.8 359.5 L1209.8 359.4 L1208.8 359.2 L1207.8 359 L1206.8 358.8 L1205.8 358.6 L1204.8 358.5 L1203.8 358.3 L1202.8 358.1 L1201.8 357.9 L1200.8 357.7 L1199.8 357.5 L1198.8 357.3 L1197.8 357.1 L1196.8 356.9 L1195.8 356.7 L1194.8 356.5 L1193.8 356.3 L1192.8 356.1 L1191.8 355.8 L1190.8 355.6 L1189.8 355.4 L1188.8 355.2 L1187.8 355 L1186.8 354.8 L1185.8 354.7 L1184.8 354.5 L1183.8 354.4 L1182.8 354.2 L1181.8 354.1 L1180.8 354 L1179.8 353.9 L1178.8 353.8 L1177.8 353.7 L1176.8 353.7 L1175.8 353.6 L1174.8 353.5 L1173.8 353.5 L1172.8 353.5 L1171.7 353.4 L1170.7 353.4 L1169.7 353.3 L1168.7 353.3 L1167.7 353.3 L1166.7 353.2 L1165.7 353.2 L1164.7 353.2 L1163.7 353.1 L1162.7 353.1 L1161.7 353.1 L1160.7 353 L1159.7 353 L1158.7 353 L1157.7 353 L1156.7 352.9 L1155.7 352.9 L1154.7 352.9 L1153.7 352.8 L1152.7 352.8 L1151.7 352.8 L1150.7 352.7 L1149.7 352.7 L1148.7 352.7 L1147.7 352.6 L1146.7 352.6 L1145.7 352.6 L1144.7 352.6 L1143.7 352.5 L1142.7 352.5 L1141.7 352.5 L1140.7 352.4 L1139.7 352.4 L1138.7 352.4 L1137.7 352.3 L1136.7 352.3 L1135.7 352.2 L1134.7 352.2 L1133.7 352.1 L1132.7 352 L1131.7 351.9 L1130.7 351.7 L1129.7 351.6 L1128.7 351.3 L1127.7 351.1 L1126.7 350.7 L1125.7 350.4 L1124.7 349.9 L1123.7 349.4 L1122.7 348.9 L1121.7 348.3 L1120.7 347.6 L1119.7 346.8 L1118.7 346 L1117.7 345.1 L1116.7 344.1 L1115.7 343 L1114.7 341.8 L1113.7 340.4 L1112.7 338.9 L1111.7 337.3 L1110.7 335.5 L1109.7 333.6 L1108.7 331.5 L1107.7 329.4 L1106.7 327.2 L1105.7 324.9 L1104.7 322.5 L1103.7 320.1 L1102.6 317.6 L1101.6 315 L1100.6 312.3 L1099.6 309.6 L1098.6 306.7 L1097.6 303.8 L1096.6 300.7 L1095.6 297.5 L1094.6 294.2 L1093.6 290.7 L1092.6 287 L1091.6 283 L1090.6 278.8 L1089.6 274.3 L1088.6 269.4 L1087.6 264.2 L1086.6 258.7 L1085.6 252.8 L1084.6 246.7 L1083.6 240.4 L1082.6 233.9 L1081.6 227.3 L1080.6 220.7 L1079.6 214.2 L1078.6 207.7 L1077.6 201.4 L1076.6 195.2 L1075.6 189.1 L1074.6 183.3 L1073.6 177.5 L1072.6 171.9 L1071.6 166.3 L1070.6 160.8 L1069.6 155.4 L1068.6 150 Z" fill="#999999" fill-opacity="0.4"/>
<path d="M1068.7 146.7 L1069.7 152 L1070.8 157.4 L1071.8 162.8 L1072.9 168.3 L1073.9 173.9 L1075 179.6 L1076 185.3 L1077.1 191.2 L1078.1 197.3 L1079.1 203.4 L1080.2 209.7 L1081.2 216 L1082.3 222.5 L1083.3 229 L1084.4 235.6 L1085.4 242.2" fill="none" stroke="#D40000" stroke-width="4.4"/>
<path d="M1089.3 262.2 L1090.3 265.3 L1091.3 268.5 L1092.3 271.6 L1093.3 274.7 L1094.3 277.8 L1095.3 280.8 L1096.3 283.8 L1097.3 286.7 L1098.3 289.6 L1099.3 292.4 L1100.3 295.1 L1101.3 297.7 L1102.3 300.3 L1103.3 302.8 L1104.3 305.1 L1105.3 307.4 L1106.3 309.6 L1107.3 311.7 L1108.4 313.8 L1109.4 315.7 L1110.4 317.5 L1111.4 319.2 L1112.4 320.8 L1113.4 322.3 L1114.4 323.7 L1115.4 324.9 L1116.4 326.1 L1117.4 327.2 L1118.4 328.2 L1119.4 329.1 L1120.4 329.9 L1121.4 330.6 L1122.4 331.2 L1123.4 331.8 L1124.4 332.2 L1125.4 332.7 L1126.4 333 L1127.4 333.3 L1128.4 333.5 L1129.4 333.7 L1130.4 333.9 L1131.4 333.9 L1132.4 334 L1133.4 334 L1134.4 334 L1135.4 334 L1136.4 334 L1137.4 333.9 L1138.4 333.9 L1139.4 333.8 L1140.4 333.7 L1141.4 333.7 L1142.4 333.6 L1143.4 333.5 L1144.5 333.4 L1145.5 333.3 L1146.5 333.3 L1147.5 333.2 L1148.5 333.1 L1149.5 333 L1150.5 332.9 L1151.5 332.9 L1152.5 332.8 L1153.5 332.7 L1154.5 332.6 L1155.5 332.5 L1156.5 332.4 L1157.5 332.4 L1158.5 332.3 L1159.5 332.2 L1160.5 332.1 L1161.5 332 L1162.5 331.9 L1163.5 331.9 L1164.5 331.8 L1165.5 331.7 L1166.5 331.6 L1167.5 331.5 L1168.5 331.4 L1169.5 331.4 L1170.5 331.3 L1171.5 331.2 L1172.5 331.1 L1173.5 331 L1174.5 331 L1175.5 330.9 L1176.5 330.8 L1177.5 330.8 L1178.5 330.7 L1179.5 330.7 L1180.5 330.6 L1181.6 330.5 L1182.6 330.5 L1183.6 330.4 L1184.6 330.4 L1185.6 330.3 L1186.6 330.3 L1187.6 330.2 L1188.6 330.2 L1189.6 330.2 L1190.6 330.1 L1191.6 330.1 L1192.6 330 L1193.6 330 L1194.6 329.9 L1195.6 329.9 L1196.6 329.8 L1197.6 329.8 L1198.6 329.8 L1199.6 329.7 L1200.6 329.7 L1201.6 329.6 L1202.6 329.6 L1203.6 329.5 L1204.6 329.5 L1205.6 329.4 L1206.6 329.4 L1207.6 329.3 L1208.6 329.3 L1209.6 329.2 L1210.6 329.2 L1211.6 329.1 L1212.6 329.1 L1213.6 329 L1214.6 329 L1215.6 328.9 L1216.6 328.8 L1217.7 328.8 L1218.7 328.7 L1219.7 328.7 L1220.7 328.6 L1221.7 328.6 L1222.7 328.5 L1223.7 328.5 L1224.7 328.4 L1225.7 328.4 L1226.7 328.3 L1227.7 328.3 L1228.7 328.2 L1229.7 328.2 L1230.7 328.1 L1231.7 328.1 L1232.7 328 L1233.7 327.9 L1234.7 327.9 L1235.7 327.8 L1236.7 327.8 L1237.7 327.7 L1238.7 327.7 L1239.7 327.6 L1240.7 327.6 L1241.7 327.5 L1242.7 327.4 L1243.7 327.4 L1244.7 327.3 L1245.7 327.3 L1246.7 327.2 L1247.7 327.2 L1248.7 327.1 L1249.7 327.1 L1250.7 327 L1251.7 326.9 L1252.7 326.9 L1253.8 326.8 L1254.8 326.8 L1255.8 326.7 L1256.8 326.6 L1257.8 326.6 L1258.8 326.5 L1259.8 326.5 L1260.8 326.4 L1261.8 326.4 L1262.8 326.3 L1263.8 326.2 L1264.8 326.2 L1265.8 326.1 L1266.8 326.1 L1267.8 326 L1268.8 325.9 L1269.8 325.9 L1270.8 325.8 L1271.8 325.8 L1272.8 325.7 L1273.8 325.6 L1274.8 325.6 L1275.8 325.5 L1276.8 325.5 L1277.8 325.4 L1278.8 325.3 L1279.8 325.3 L1280.8 325.2 L1281.8 325.1 L1282.8 325.1 L1283.8 325 L1284.8 325 L1285.8 324.9 L1286.8 324.8 L1287.8 324.8 L1288.8 324.7 L1289.8 324.6 L1290.9 324.6 L1291.9 324.5 L1292.9 324.4 L1293.9 324.4 L1294.9 324.3 L1295.9 324.2 L1296.9 324.2 L1297.9 324.1 L1298.9 324.1 L1299.9 324 L1300.9 323.9 L1301.9 323.9 L1302.9 323.8 L1303.9 323.7 L1304.9 323.7 L1305.9 323.6 L1306.9 323.5 L1307.9 323.5 L1308.9 323.4 L1309.9 323.3 L1310.9 323.2 L1311.9 323.2 L1312.9 323.1 L1313.9 323 L1314.9 323 L1315.9 322.9 L1316.9 322.8 L1317.9 322.8 L1318.9 322.7 L1319.9 322.6 L1320.9 322.6 L1321.9 322.5 L1322.9 322.4 L1323.9 322.3 L1324.9 322.3 L1325.9 322.2 L1327 322.1 L1328 322.1 L1329 322 L1330 321.9 L1331 321.8 L1332 321.8 L1333 321.7 L1334 321.6 L1335 321.5 L1336 321.5 L1337 321.4 L1338 321.3 L1339 321.2 L1340 321.2 L1341 321.1 L1342 321 L1343 321 L1344 320.9 L1345 320.8" fill="none" stroke="#D40000" stroke-width="4.4"/>
<line x1="1056.05" x2="1358.8" y1="251.45" y2="251.45" stroke="#6E6E6E" stroke-width="3.8"/>
<line x1="1071.1" x2="1071.1" y1="450.57" y2="52.33" stroke="#6F6F6F" stroke-width="4.0" stroke-dasharray="15 15"/>
<line x1="1224.4" x2="1224.4" y1="450.57" y2="52.33" stroke="#6F6F6F" stroke-width="4.0" stroke-dasharray="15 15"/>
</g>
<line x1="1056.05" x2="1056.05" y1="52.33" y2="450.57" stroke="#000" stroke-width="4.4"/>
<line x1="1056.05" x2="1358.8" y1="450.57" y2="450.57" stroke="#000" stroke-width="4.4"/>
<line x1="1045.45" x2="1056.05" y1="432.47" y2="432.47" stroke="#000" stroke-width="4.3"/>
<text transform="translate(1032.8 442.87) scale(1 1.015)" text-anchor="end">−2</text>
<line x1="1045.45" x2="1056.05" y1="341.96" y2="341.96" stroke="#000" stroke-width="4.3"/>
<text transform="translate(1032.8 352.36) scale(1 1.015)" text-anchor="end">−1</text>
<line x1="1045.45" x2="1056.05" y1="251.45" y2="251.45" stroke="#000" stroke-width="4.3"/>
<text transform="translate(1032.8 261.85) scale(1 1.015)" text-anchor="end">0</text>
<line x1="1045.45" x2="1056.05" y1="160.94" y2="160.94" stroke="#000" stroke-width="4.3"/>
<text transform="translate(1032.8 171.34) scale(1 1.015)" text-anchor="end">1</text>
<line x1="1045.45" x2="1056.05" y1="70.43" y2="70.43" stroke="#000" stroke-width="4.3"/>
<text transform="translate(1032.8 80.83) scale(1 1.015)" text-anchor="end">2</text>
<line x1="1056.8" x2="1056.8" y1="450.57" y2="461.17" stroke="#000" stroke-width="4.3"/>
<text transform="translate(1055.4 494) scale(1 1.015)" text-anchor="middle">0</text>
<line x1="1115.64" x2="1115.64" y1="450.57" y2="461.17" stroke="#000" stroke-width="4.3"/>
<text transform="translate(1114.24 494) scale(1 1.015)" text-anchor="middle">10</text>
<line x1="1174.48" x2="1174.48" y1="450.57" y2="461.17" stroke="#000" stroke-width="4.3"/>
<text transform="translate(1173.08 494) scale(1 1.015)" text-anchor="middle">20</text>
<line x1="1233.32" x2="1233.32" y1="450.57" y2="461.17" stroke="#000" stroke-width="4.3"/>
<text transform="translate(1231.92 494) scale(1 1.015)" text-anchor="middle">30</text>
<line x1="1292.16" x2="1292.16" y1="450.57" y2="461.17" stroke="#000" stroke-width="4.3"/>
<text transform="translate(1290.76 494) scale(1 1.015)" text-anchor="middle">40</text>
<line x1="1351" x2="1351" y1="450.57" y2="461.17" stroke="#000" stroke-width="4.3"/>
<text transform="translate(1349.6 494) scale(1 1.015)" text-anchor="middle">50</text>
<text transform="translate(977.9 251.6) rotate(-90) scale(1 1.015)" text-anchor="middle">Log odds</text>
<text transform="translate(1054.3 21.7) scale(1 1.015)">Kurtosis SpO2</text>
</g>
<g>
<clipPath id="cr0p3"><rect x="1503.6" y="52.33" width="304.4" height="398.24"/></clipPath>
<g clip-path="url(#cr0p3)">
<line x1="1503.6" x2="1808" y1="432.47" y2="432.47" stroke="#EFEFEF" stroke-width="4.4"/>
<line x1="1503.6" x2="1808" y1="341.96" y2="341.96" stroke="#EFEFEF" stroke-width="4.4"/>
<line x1="1503.6" x2="1808" y1="251.45" y2="251.45" stroke="#EFEFEF" stroke-width="4.4"/>
<line x1="1503.6" x2="1808" y1="160.94" y2="160.94" stroke="#EFEFEF" stroke-width="4.4"/>
<line x1="1503.6" x2="1808" y1="70.43" y2="70.43" stroke="#EFEFEF" stroke-width="4.4"/>
<line x1="1513.8" x2="1513.8" y1="52.33" y2="450.57" stroke="#EFEFEF" stroke-width="4.4"/>
<line x1="1603.1" x2="1603.1" y1="52.33" y2="450.57" stroke="#EFEFEF" stroke-width="4.4"/>
<line x1="1692.4" x2="1692.4" y1="52.33" y2="450.57" stroke="#EFEFEF" stroke-width="4.4"/>
<line x1="1781.7" x2="1781.7" y1="52.33" y2="450.57" stroke="#EFEFEF" stroke-width="4.4"/>
<path d="M1517.1 339.6 L1518.1 339.3 L1519.1 339 L1520.1 338.8 L1521.1 338.5 L1522.1 338.2 L1523.1 337.9 L1524.1 337.6 L1525.1 337.4 L1526.1 337.1 L1527.1 336.8 L1528.1 336.5 L1529.1 336.2 L1530.1 336 L1531.1 335.7 L1532.1 335.4 L1533.1 335.1 L1534.1 334.8 L1535.1 334.6 L1536.1 334.3 L1537.1 334 L1538.1 333.7 L1539.1 333.4 L1540.1 333.2 L1541.1 332.9 L1542.1 332.6 L1543.1 332.3 L1544.1 332 L1545.1 331.8 L1546.1 331.5 L1547.1 331.2 L1548.1 330.9 L1549.1 330.6 L1550.1 330.4 L1551.1 330.1 L1552.1 329.8 L1553.1 329.5 L1554.1 329.2 L1555.1 329 L1556.1 328.7 L1557.1 328.4 L1558.1 328.1 L1559.1 327.8 L1560.1 327.6 L1561.1 327.3 L1562.1 327 L1563.1 326.7 L1564.1 326.5 L1565.1 326.2 L1566.1 325.9 L1567.1 325.6 L1568.1 325.3 L1569.1 325.1 L1570.1 324.8 L1571.1 324.5 L1572.1 324.2 L1573.1 323.9 L1574.1 323.7 L1575.1 323.4 L1576.1 323.1 L1577.1 322.8 L1578.1 322.6 L1579.1 322.3 L1580.1 322 L1581.1 321.7 L1582.1 321.4 L1583.1 321.2 L1584.1 320.9 L1585.1 320.6 L1586.2 320.3 L1587.2 320.1 L1588.2 319.8 L1589.2 319.5 L1590.2 319.2 L1591.2 318.9 L1592.2 318.7 L1593.2 318.4 L1594.2 318.1 L1595.2 317.8 L1596.2 317.6 L1597.2 317.3 L1598.2 317 L1599.2 316.7 L1600.2 316.5 L1601.2 316.2 L1602.2 315.9 L1603.2 315.6 L1604.2 315.4 L1605.2 315.1 L1606.2 314.8 L1607.2 314.6 L1608.2 314.3 L1609.2 314 L1610.2 313.7 L1611.2 313.5 L1612.2 313.2 L1613.2 312.9 L1614.2 312.7 L1615.2 312.4 L1616.2 312.1 L1617.2 311.9 L1618.2 311.6 L1619.2 311.3 L1620.2 311.1 L1621.2 310.8 L1622.2 310.5 L1623.2 310.3 L1624.2 310 L1625.2 309.7 L1626.2 309.4 L1627.2 309.2 L1628.2 308.9 L1629.2 308.6 L1630.2 308.4 L1631.2 308.1 L1632.2 307.8 L1633.2 307.5 L1634.2 307.3 L1635.2 307 L1636.2 306.7 L1637.2 306.4 L1638.2 306.1 L1639.2 305.8 L1640.2 305.6 L1641.2 305.3 L1642.2 305 L1643.2 304.7 L1644.2 304.4 L1645.2 304.1 L1646.2 303.8 L1647.2 303.5 L1648.2 303.2 L1649.2 302.9 L1650.2 302.6 L1651.2 302.3 L1652.2 302 L1653.2 301.7 L1654.2 301.4 L1655.2 301.1 L1656.2 300.8 L1657.2 300.5 L1658.2 300.2 L1659.2 299.9 L1660.2 299.6 L1661.2 299.2 L1662.2 298.9 L1663.2 298.6 L1664.2 298.2 L1665.2 297.8 L1666.2 297.5 L1667.2 297.1 L1668.2 296.7 L1669.2 296.3 L1670.2 295.8 L1671.2 295.4 L1672.2 294.9 L1673.2 294.4 L1674.2 293.9 L1675.2 293.4 L1676.2 292.9 L1677.2 292.4 L1678.2 291.8 L1679.2 291.3 L1680.2 290.7 L1681.2 290.2 L1682.2 289.6 L1683.2 289 L1684.2 288.5 L1685.2 287.9 L1686.2 287.3 L1687.2 286.7 L1688.2 286.1 L1689.2 285.5 L1690.2 284.8 L1691.2 284.1 L1692.2 283.4 L1693.2 282.7 L1694.2 282 L1695.2 281.2 L1696.2 280.4 L1697.2 279.6 L1698.2 278.7 L1699.2 277.8 L1700.2 276.9 L1701.2 276 L1702.2 275.1 L1703.2 274.1 L1704.2 273.2 L1705.2 272.2 L1706.2 271.2 L1707.2 270.2 L1708.2 269.2 L1709.2 268.1 L1710.2 267.1 L1711.2 266 L1712.2 264.9 L1713.2 263.7 L1714.2 262.5 L1715.2 261.3 L1716.2 260.1 L1717.2 258.8 L1718.2 257.5 L1719.2 256.2 L1720.2 254.8 L1721.2 253.5 L1722.2 252.1 L1723.2 250.7 L1724.3 249.3 L1725.3 247.9 L1726.3 246.4 L1727.3 245 L1728.3 243.5 L1729.3 242 L1730.3 240.5 L1731.3 238.9 L1732.3 237.4 L1733.3 235.8 L1734.3 234.1 L1735.3 232.5 L1736.3 230.8 L1737.3 229.1 L1738.3 227.3 L1739.3 225.6 L1740.3 223.8 L1741.3 222 L1742.3 220.1 L1743.3 218.3 L1744.3 216.5 L1745.3 214.6 L1746.3 212.7 L1747.3 210.8 L1748.3 208.9 L1749.3 207 L1750.3 205 L1751.3 203.1 L1752.3 201 L1753.3 199 L1754.3 196.8 L1755.3 194.7 L1756.3 192.5 L1757.3 190.2 L1758.3 188 L1759.3 185.6 L1760.3 183.3 L1761.3 180.9 L1762.3 178.5 L1763.3 176.1 L1764.3 173.7 L1765.3 171.2 L1766.3 168.8 L1767.3 166.4 L1768.3 164 L1769.3 161.5 L1770.3 159.1 L1771.3 156.7 L1772.3 154.3 L1773.3 151.9 L1774.3 149.4 L1775.3 147 L1776.3 144.6 L1777.3 142.2 L1778.3 139.8 L1779.3 137.4 L1780.3 135 L1781.3 132.6 L1782.3 130.2 L1783.3 127.9 L1784.3 125.5 L1785.3 123.1 L1786.3 120.7 L1787.3 118.3 L1788.3 116 L1789.3 113.6 L1790.3 111.2 L1791.3 108.9 L1792.3 106.5 L1792.3 142 L1791.3 143.8 L1790.3 145.5 L1789.3 147.3 L1788.3 149.1 L1787.3 150.9 L1786.3 152.8 L1785.3 154.6 L1784.3 156.5 L1783.3 158.3 L1782.3 160.3 L1781.3 162.2 L1780.3 164.1 L1779.3 166.1 L1778.3 168.1 L1777.3 170.2 L1776.3 172.2 L1775.3 174.3 L1774.3 176.4 L1773.3 178.5 L1772.3 180.7 L1771.3 182.8 L1770.3 185 L1769.3 187.2 L1768.3 189.4 L1767.3 191.6 L1766.2 193.8 L1765.2 196 L1764.2 198.2 L1763.2 200.4 L1762.2 202.6 L1761.2 204.8 L1760.2 207 L1759.2 209.1 L1758.2 211.2 L1757.2 213.3 L1756.2 215.4 L1755.2 217.4 L1754.2 219.4 L1753.2 221.4 L1752.2 223.3 L1751.2 225.2 L1750.2 227.1 L1749.2 228.9 L1748.2 230.7 L1747.2 232.5 L1746.2 234.2 L1745.2 235.9 L1744.2 237.5 L1743.2 239.2 L1742.2 240.7 L1741.2 242.3 L1740.2 243.8 L1739.2 245.3 L1738.2 246.8 L1737.2 248.2 L1736.2 249.6 L1735.2 251 L1734.2 252.4 L1733.2 253.7 L1732.2 255 L1731.2 256.4 L1730.2 257.7 L1729.2 259 L1728.2 260.4 L1727.2 261.8 L1726.2 263.2 L1725.2 264.6 L1724.2 266.1 L1723.2 267.6 L1722.2 269.1 L1721.2 270.7 L1720.2 272.2 L1719.2 273.7 L1718.2 275.3 L1717.2 276.8 L1716.1 278.4 L1715.1 279.9 L1714.1 281.4 L1713.1 282.9 L1712.1 284.4 L1711.1 285.9 L1710.1 287.4 L1709.1 288.9 L1708.1 290.3 L1707.1 291.8 L1706.1 293.2 L1705.1 294.7 L1704.1 296.1 L1703.1 297.5 L1702.1 298.9 L1701.1 300.3 L1700.1 301.7 L1699.1 303.1 L1698.1 304.5 L1697.1 305.8 L1696.1 307.1 L1695.1 308.5 L1694.1 309.8 L1693.1 311 L1692.1 312.3 L1691.1 313.6 L1690.1 314.8 L1689.1 316 L1688.1 317.2 L1687.1 318.4 L1686.1 319.5 L1685.1 320.7 L1684.1 321.8 L1683.1 322.9 L1682.1 324 L1681.1 325.1 L1680.1 326.2 L1679.1 327.3 L1678.1 328.4 L1677.1 329.5 L1676.1 330.6 L1675.1 331.7 L1674.1 332.8 L1673.1 333.9 L1672.1 335 L1671.1 336.2 L1670.1 337.3 L1669.1 338.5 L1668.1 339.7 L1667.1 340.9 L1666 342.1 L1665 343.3 L1664 344.6 L1663 345.8 L1662 347 L1661 348.3 L1660 349.5 L1659 350.7 L1658 352 L1657 353.2 L1656 354.4 L1655 355.6 L1654 356.8 L1653 358.1 L1652 359.3 L1651 360.5 L1650 361.7 L1649 362.8 L1648 364 L1647 365.2 L1646 366.4 L1645 367.6 L1644 368.8 L1643 370 L1642 371.2 L1641 372.3 L1640 373.5 L1639 374.7 L1638 375.9 L1637 377.1 L1636 378.3 L1635 379.5 L1634 380.6 L1633 381.8 L1632 383 L1631 384.2 L1630 385.4 L1629 386.6 L1628 387.8 L1627 389 L1626 390.2 L1625 391.4 L1624 392.6 L1623 393.8 L1622 395 L1621 396.2 L1620 397.4 L1619 398.6 L1618 399.8 L1617 401 L1615.9 402.2 L1614.9 403.4 L1613.9 404.6 L1612.9 405.8 L1611.9 407 L1610.9 408.2 L1609.9 409.4 L1608.9 410.6 L1607.9 411.8 L1606.9 413.1 L1605.9 414.3 L1604.9 415.5 L1603.9 416.7 L1602.9 417.9 L1601.9 419.1 L1600.9 420.3 L1599.9 421.5 L1598.9 422.7 L1597.9 423.9 L1596.9 425.1 L1595.9 426.3 L1594.9 427.6 L1593.9 428.8 L1592.9 430 L1591.9 431.2 L1590.9 432.4 L1517.1 432.4 Z" fill="#999999" fill-opacity="0.4"/>
<path d="M1517.1 430.1 L1518.1 429.4 L1519.1 428.7 L1520.1 428 L1521.1 427.3 L1522.1 426.6 L1523.1 425.9 L1524.1 425.2 L1525.1 424.5 L1526.1 423.8 L1527.1 423.1 L1528.1 422.4 L1529.2 421.7 L1530.2 420.9 L1531.2 420.2 L1532.2 419.5 L1533.2 418.8 L1534.2 418.1 L1535.2 417.4 L1536.2 416.7 L1537.2 416 L1538.2 415.2 L1539.2 414.5 L1540.2 413.8 L1541.2 413.1 L1542.2 412.4 L1543.2 411.6 L1544.2 410.9 L1545.2 410.2 L1546.2 409.5 L1547.2 408.8 L1548.2 408 L1549.2 407.3 L1550.2 406.6 L1551.2 405.8 L1552.3 405.1 L1553.3 404.4 L1554.3 403.7 L1555.3 402.9 L1556.3 402.2 L1557.3 401.5 L1558.3 400.7 L1559.3 400 L1560.3 399.3 L1561.3 398.5 L1562.3 397.8 L1563.3 397.1 L1564.3 396.3 L1565.3 395.6 L1566.3 394.8 L1567.3 394.1 L1568.3 393.4 L1569.3 392.6 L1570.3 391.9 L1571.3 391.1 L1572.3 390.4 L1573.3 389.6 L1574.4 388.9 L1575.4 388.1 L1576.4 387.4 L1577.4 386.7 L1578.4 385.9 L1579.4 385.2 L1580.4 384.4 L1581.4 383.7 L1582.4 382.9 L1583.4 382.2 L1584.4 381.4 L1585.4 380.6 L1586.4 379.9 L1587.4 379.1 L1588.4 378.4 L1589.4 377.6 L1590.4 376.9 L1591.4 376.1 L1592.4 375.4 L1593.4 374.6 L1594.4 373.8 L1595.4 373.1 L1596.4 372.3 L1597.5 371.5 L1598.5 370.8 L1599.5 370 L1600.5 369.2 L1601.5 368.5 L1602.5 367.7 L1603.5 366.9 L1604.5 366.2 L1605.5 365.4 L1606.5 364.6 L1607.5 363.8 L1608.5 363 L1609.5 362.2 L1610.5 361.5 L1611.5 360.7 L1612.5 359.9 L1613.5 359.1 L1614.5 358.3 L1615.5 357.5 L1616.5 356.7 L1617.5 355.9 L1618.5 355.1 L1619.5 354.3 L1620.6 353.5 L1621.6 352.7 L1622.6 351.9 L1623.6 351.1 L1624.6 350.3 L1625.6 349.5 L1626.6 348.7 L1627.6 347.9 L1628.6 347.1 L1629.6 346.3 L1630.6 345.5 L1631.6 344.7 L1632.6 343.9 L1633.6 343.1 L1634.6 342.3 L1635.6 341.5 L1636.6 340.7 L1637.6 339.9 L1638.6 339.2 L1639.6 338.4 L1640.6 337.6 L1641.6 336.8 L1642.6 336 L1643.7 335.2 L1644.7 334.4 L1645.7 333.7 L1646.7 332.9 L1647.7 332.1 L1648.7 331.3 L1649.7 330.6 L1650.7 329.8 L1651.7 329 L1652.7 328.3 L1653.7 327.5 L1654.7 326.8 L1655.7 326 L1656.7 325.3 L1657.7 324.5 L1658.7 323.8 L1659.7 323 L1660.7 322.3 L1661.7 321.5 L1662.7 320.8 L1663.7 320 L1664.7 319.2 L1665.7 318.5 L1666.8 317.7 L1667.8 317 L1668.8 316.2 L1669.8 315.4 L1670.8 314.6 L1671.8 313.9 L1672.8 313.1 L1673.8 312.3 L1674.8 311.5 L1675.8 310.8 L1676.8 310 L1677.8 309.2 L1678.8 308.4 L1679.8 307.6 L1680.8 306.8 L1681.8 306 L1682.8 305.2 L1683.8 304.3 L1684.8 303.5 L1685.8 302.7 L1686.8 301.8 L1687.8 301 L1688.9 300.1 L1689.9 299.2 L1690.9 298.3 L1691.9 297.5 L1692.9 296.6 L1693.9 295.7 L1694.9 294.7 L1695.9 293.8 L1696.9 292.9 L1697.9 291.9 L1698.9 291 L1699.9 290 L1700.9 289.1 L1701.9 288.1 L1702.9 287.1 L1703.9 286 L1704.9 285 L1705.9 283.9 L1706.9 282.9 L1707.9 281.8 L1708.9 280.6 L1709.9 279.5 L1710.9 278.4 L1712 277.2 L1713 276 L1714 274.8 L1715 273.5 L1716 272.3 L1717 271 L1718 269.7 L1719 268.4 L1720 267.1 L1721 265.8 L1722 264.4 L1723 263.1" fill="none" stroke="#D40000" stroke-width="4.4"/>
<path d="M1736.1 241.3 L1737.1 239.4 L1738.1 237.5 L1739.1 235.6 L1740.1 233.7 L1741.1 231.7 L1742.1 229.8 L1743.1 227.9 L1744.1 226 L1745.1 224 L1746.1 222.1 L1747.1 220.2 L1748.1 218.2 L1749.1 216.3 L1750.1 214.3 L1751.1 212.4 L1752.1 210.4 L1753.1 208.5 L1754.1 206.5 L1755.1 204.6 L1756.1 202.6 L1757.1 200.6 L1758.1 198.7 L1759.1 196.7 L1760.1 194.7 L1761.1 192.7 L1762.1 190.7 L1763.1 188.7 L1764.1 186.7 L1765.2 184.7 L1766.2 182.7 L1767.2 180.7 L1768.2 178.6 L1769.2 176.6 L1770.2 174.5 L1771.2 172.4 L1772.2 170.3 L1773.2 168.2 L1774.2 166.1 L1775.2 163.9 L1776.2 161.8 L1777.2 159.6 L1778.2 157.4 L1779.2 155.2 L1780.2 153 L1781.2 150.8 L1782.2 148.5 L1783.2 146.3 L1784.2 144.1 L1785.2 141.8 L1786.2 139.6 L1787.2 137.3 L1788.2 135.1 L1789.2 132.8 L1790.2 130.6 L1791.2 128.3 L1792.2 126.1 L1793.2 123.8" fill="none" stroke="#D40000" stroke-width="4.4"/>
<line x1="1503.6" x2="1808" y1="251.45" y2="251.45" stroke="#6E6E6E" stroke-width="3.8"/>
<line x1="1596" x2="1596" y1="450.57" y2="52.33" stroke="#6F6F6F" stroke-width="4.0" stroke-dasharray="15 15"/>
<line x1="1781.6" x2="1781.6" y1="450.57" y2="52.33" stroke="#6F6F6F" stroke-width="4.0" stroke-dasharray="15 15"/>
</g>
<line x1="1503.6" x2="1503.6" y1="52.33" y2="450.57" stroke="#000" stroke-width="4.4"/>
<line x1="1503.6" x2="1808" y1="450.57" y2="450.57" stroke="#000" stroke-width="4.4"/>
<line x1="1493" x2="1503.6" y1="432.47" y2="432.47" stroke="#000" stroke-width="4.3"/>
<text transform="translate(1480.35 442.87) scale(1 1.015)" text-anchor="end">−2</text>
<line x1="1493" x2="1503.6" y1="341.96" y2="341.96" stroke="#000" stroke-width="4.3"/>
<text transform="translate(1480.35 352.36) scale(1 1.015)" text-anchor="end">−1</text>
<line x1="1493" x2="1503.6" y1="251.45" y2="251.45" stroke="#000" stroke-width="4.3"/>
<text transform="translate(1480.35 261.85) scale(1 1.015)" text-anchor="end">0</text>
<line x1="1493" x2="1503.6" y1="160.94" y2="160.94" stroke="#000" stroke-width="4.3"/>
<text transform="translate(1480.35 171.34) scale(1 1.015)" text-anchor="end">1</text>
<line x1="1493" x2="1503.6" y1="70.43" y2="70.43" stroke="#000" stroke-width="4.3"/>
<text transform="translate(1480.35 80.83) scale(1 1.015)" text-anchor="end">2</text>
<line x1="1513.8" x2="1513.8" y1="450.57" y2="461.17" stroke="#000" stroke-width="4.3"/>
<text transform="translate(1512.4 494) scale(1 1.015)" text-anchor="middle">−6</text>
<line x1="1603.1" x2="1603.1" y1="450.57" y2="461.17" stroke="#000" stroke-width="4.3"/>
<text transform="translate(1601.7 494) scale(1 1.015)" text-anchor="middle">−4</text>
<line x1="1692.4" x2="1692.4" y1="450.57" y2="461.17" stroke="#000" stroke-width="4.3"/>
<text transform="translate(1691 494) scale(1 1.015)" text-anchor="middle">−2</text>
<line x1="1781.7" x2="1781.7" y1="450.57" y2="461.17" stroke="#000" stroke-width="4.3"/>
<text transform="translate(1780.3 494) scale(1 1.015)" text-anchor="middle">0</text>
<text transform="translate(1426.3 251.6) rotate(-90) scale(1 1.015)" text-anchor="middle">Log odds</text>
<text transform="translate(1501 21.7) scale(1 1.015)">Skewness SpO2</text>
</g>
<text transform="translate(22.4 790.35) rotate(-90) scale(1 1.015)" text-anchor="middle" fill="#FF0000">NEC</text>
<g>
<clipPath id="cr1p0"><rect x="156.45" y="591.53" width="302.45" height="398.24"/></clipPath>
<g clip-path="url(#cr1p0)">
<line x1="156.45" x2="458.9" y1="971.67" y2="971.67" stroke="#EFEFEF" stroke-width="4.4"/>
<line x1="156.45" x2="458.9" y1="881.16" y2="881.16" stroke="#EFEFEF" stroke-width="4.4"/>
<line x1="156.45" x2="458.9" y1="790.65" y2="790.65" stroke="#EFEFEF" stroke-width="4.4"/>
<line x1="156.45" x2="458.9" y1="700.14" y2="700.14" stroke="#EFEFEF" stroke-width="4.4"/>
<line x1="156.45" x2="458.9" y1="609.63" y2="609.63" stroke="#EFEFEF" stroke-width="4.4"/>
<line x1="217.69" x2="217.69" y1="591.53" y2="989.77" stroke="#EFEFEF" stroke-width="4.4"/>
<line x1="293.93" x2="293.93" y1="591.53" y2="989.77" stroke="#EFEFEF" stroke-width="4.4"/>
<line x1="370.16" x2="370.16" y1="591.53" y2="989.77" stroke="#EFEFEF" stroke-width="4.4"/>
<line x1="446.4" x2="446.4" y1="591.53" y2="989.77" stroke="#EFEFEF" stroke-width="4.4"/>
<path d="M170.1 685.6 L171.1 686.1 L172.1 686.5 L173.1 686.9 L174.1 687.4 L175.1 687.8 L176.1 688.3 L177.1 688.7 L178.1 689.2 L179.1 689.6 L180.1 690.1 L181.1 690.5 L182.1 691 L183.1 691.4 L184.1 691.8 L185.1 692.3 L186.1 692.7 L187.1 693.1 L188.1 693.6 L189.1 694 L190.1 694.4 L191.1 694.8 L192.1 695.3 L193.1 695.7 L194.1 696.1 L195.1 696.5 L196.1 697 L197.1 697.4 L198.1 697.8 L199.1 698.2 L200.1 698.6 L201.1 699 L202.1 699.4 L203.1 699.9 L204.1 700.3 L205.1 700.7 L206.1 701.1 L207.1 701.5 L208.1 701.9 L209.1 702.3 L210.1 702.7 L211.1 703.1 L212.1 703.5 L213.1 703.9 L214.1 704.3 L215.1 704.7 L216.1 705.1 L217.1 705.6 L218.1 706 L219.1 706.4 L220.1 706.8 L221.1 707.2 L222.1 707.6 L223.1 708 L224.1 708.4 L225.1 708.8 L226.1 709.2 L227.1 709.7 L228.1 710.1 L229.1 710.5 L230.1 710.9 L231.1 711.3 L232.1 711.7 L233.1 712.1 L234.1 712.5 L235.1 712.9 L236.1 713.3 L237.1 713.7 L238.1 714 L239.2 714.4 L240.2 714.8 L241.2 715.2 L242.2 715.6 L243.2 715.9 L244.2 716.3 L245.2 716.6 L246.2 717 L247.2 717.4 L248.2 717.7 L249.2 718 L250.2 718.4 L251.2 718.7 L252.2 719.1 L253.2 719.4 L254.2 719.8 L255.2 720.1 L256.2 720.4 L257.2 720.8 L258.2 721.1 L259.2 721.4 L260.2 721.8 L261.2 722.1 L262.2 722.4 L263.2 722.8 L264.2 723.1 L265.2 723.4 L266.2 723.8 L267.2 724.1 L268.2 724.4 L269.2 724.8 L270.2 725.1 L271.2 725.4 L272.2 725.7 L273.2 726.1 L274.2 726.4 L275.2 726.7 L276.2 727.1 L277.2 727.4 L278.2 727.7 L279.2 728 L280.2 728.3 L281.2 728.7 L282.2 729 L283.2 729.3 L284.2 729.6 L285.2 729.9 L286.2 730.2 L287.2 730.5 L288.2 730.8 L289.2 731.1 L290.2 731.4 L291.2 731.7 L292.2 732 L293.2 732.2 L294.2 732.5 L295.2 732.8 L296.2 733.1 L297.2 733.3 L298.2 733.6 L299.2 733.8 L300.2 734.1 L301.2 734.3 L302.2 734.6 L303.2 734.8 L304.2 735.1 L305.2 735.3 L306.2 735.5 L307.2 735.8 L308.2 736 L309.2 736.2 L310.2 736.5 L311.2 736.7 L312.2 737 L313.2 737.2 L314.2 737.4 L315.2 737.7 L316.2 737.9 L317.2 738.2 L318.2 738.5 L319.2 738.7 L320.2 739 L321.2 739.2 L322.2 739.5 L323.2 739.8 L324.2 740 L325.2 740.3 L326.2 740.6 L327.2 740.9 L328.2 741.2 L329.2 741.5 L330.2 741.7 L331.2 742.1 L332.2 742.4 L333.2 742.7 L334.2 743 L335.2 743.3 L336.2 743.7 L337.2 744.1 L338.2 744.4 L339.2 744.8 L340.2 745.2 L341.2 745.6 L342.2 746.1 L343.2 746.5 L344.2 747 L345.2 747.5 L346.2 748 L347.2 748.5 L348.2 749 L349.2 749.6 L350.2 750.1 L351.2 750.7 L352.2 751.3 L353.2 751.9 L354.2 752.5 L355.2 753.2 L356.2 753.8 L357.2 754.5 L358.2 755.2 L359.2 756 L360.2 756.7 L361.2 757.5 L362.2 758.3 L363.2 759.1 L364.2 759.9 L365.2 760.8 L366.2 761.6 L367.2 762.5 L368.2 763.4 L369.2 764.3 L370.2 765.2 L371.2 766.1 L372.2 767 L373.2 767.9 L374.2 768.8 L375.2 769.7 L376.2 770.6 L377.3 771.4 L378.3 772.3 L379.3 773.2 L380.3 774.1 L381.3 774.9 L382.3 775.8 L383.3 776.7 L384.3 777.5 L385.3 778.4 L386.3 779.2 L387.3 780.1 L388.3 780.9 L389.3 781.7 L390.3 782.6 L391.3 783.4 L392.3 784.2 L393.3 785 L394.3 785.8 L395.3 786.6 L396.3 787.4 L397.3 788.2 L398.3 789 L399.3 789.8 L400.3 790.7 L401.3 791.5 L402.3 792.3 L403.3 793.1 L404.3 793.9 L405.3 794.7 L406.3 795.5 L407.3 796.3 L408.3 797.2 L409.3 798 L410.3 798.8 L411.3 799.6 L412.3 800.4 L413.3 801.2 L414.3 802 L415.3 802.8 L416.3 803.6 L417.3 804.4 L418.3 805.2 L419.3 805.9 L420.3 806.7 L421.3 807.4 L422.3 808.2 L423.3 808.9 L424.3 809.6 L425.3 810.3 L426.3 811 L427.3 811.7 L428.3 812.4 L429.3 813.1 L430.3 813.8 L431.3 814.5 L432.3 815.1 L433.3 815.8 L434.3 816.5 L435.3 817.1 L436.3 817.7 L437.3 818.4 L438.3 819 L439.3 819.6 L440.3 820.3 L441.3 820.9 L442.3 821.5 L443.3 822.1 L444.3 822.7 L445.3 823.3 L445.3 911.3 L444.3 909.4 L443.3 907.5 L442.3 905.6 L441.3 903.7 L440.3 901.8 L439.3 899.9 L438.3 898.1 L437.3 896.2 L436.3 894.3 L435.3 892.4 L434.3 890.5 L433.3 888.6 L432.3 886.7 L431.3 884.8 L430.3 882.9 L429.3 881 L428.3 879.1 L427.3 877.1 L426.3 875.2 L425.3 873.3 L424.3 871.4 L423.3 869.5 L422.3 867.6 L421.3 865.7 L420.3 863.8 L419.3 862 L418.3 860.1 L417.3 858.3 L416.3 856.5 L415.3 854.7 L414.3 853 L413.3 851.3 L412.3 849.6 L411.3 848 L410.3 846.4 L409.3 844.8 L408.3 843.2 L407.3 841.6 L406.3 840.1 L405.3 838.6 L404.3 837.1 L403.3 835.7 L402.3 834.3 L401.3 832.8 L400.3 831.4 L399.3 830.1 L398.3 828.7 L397.3 827.4 L396.3 826 L395.3 824.7 L394.3 823.4 L393.3 822.2 L392.3 820.9 L391.3 819.6 L390.3 818.4 L389.3 817.1 L388.3 815.9 L387.3 814.7 L386.3 813.5 L385.3 812.4 L384.3 811.2 L383.3 810.1 L382.3 809 L381.3 808 L380.3 806.9 L379.3 805.9 L378.3 804.9 L377.3 803.9 L376.2 802.9 L375.2 802 L374.2 801 L373.2 800.1 L372.2 799.3 L371.2 798.4 L370.2 797.6 L369.2 796.8 L368.2 796.1 L367.2 795.4 L366.2 794.7 L365.2 794 L364.2 793.3 L363.2 792.7 L362.2 792.1 L361.2 791.4 L360.2 790.8 L359.2 790.3 L358.2 789.7 L357.2 789.1 L356.2 788.5 L355.2 788 L354.2 787.4 L353.2 786.8 L352.2 786.3 L351.2 785.7 L350.2 785.2 L349.2 784.6 L348.2 784.1 L347.2 783.5 L346.2 783 L345.2 782.5 L344.2 781.9 L343.2 781.5 L342.2 781 L341.2 780.5 L340.2 780.1 L339.2 779.7 L338.2 779.3 L337.2 778.9 L336.2 778.5 L335.2 778.2 L334.2 777.8 L333.2 777.5 L332.2 777.2 L331.2 776.9 L330.2 776.6 L329.2 776.3 L328.2 776 L327.2 775.7 L326.2 775.5 L325.2 775.2 L324.2 774.9 L323.2 774.7 L322.2 774.5 L321.2 774.2 L320.2 774 L319.2 773.8 L318.2 773.5 L317.2 773.3 L316.2 773.1 L315.2 772.9 L314.2 772.7 L313.2 772.5 L312.2 772.3 L311.2 772.1 L310.2 771.9 L309.2 771.7 L308.2 771.5 L307.2 771.3 L306.2 771.1 L305.2 771 L304.2 770.8 L303.2 770.6 L302.2 770.5 L301.2 770.3 L300.2 770.2 L299.2 770 L298.2 769.9 L297.2 769.7 L296.2 769.6 L295.2 769.5 L294.2 769.4 L293.2 769.3 L292.2 769.1 L291.2 769 L290.2 768.9 L289.2 768.8 L288.2 768.7 L287.2 768.6 L286.2 768.5 L285.2 768.4 L284.2 768.4 L283.2 768.3 L282.2 768.2 L281.2 768.1 L280.2 768 L279.2 767.9 L278.2 767.9 L277.2 767.8 L276.2 767.7 L275.2 767.6 L274.2 767.6 L273.2 767.5 L272.2 767.4 L271.2 767.4 L270.2 767.3 L269.2 767.2 L268.2 767.2 L267.2 767.1 L266.2 767 L265.2 767 L264.2 766.9 L263.2 766.9 L262.2 766.8 L261.2 766.8 L260.2 766.7 L259.2 766.7 L258.2 766.6 L257.2 766.6 L256.2 766.5 L255.2 766.5 L254.2 766.4 L253.2 766.4 L252.2 766.3 L251.2 766.3 L250.2 766.2 L249.2 766.2 L248.2 766.2 L247.2 766.1 L246.2 766.1 L245.2 766.1 L244.2 766.1 L243.2 766 L242.2 766 L241.2 766 L240.2 766 L239.2 766 L238.1 766 L237.1 766 L236.1 766 L235.1 766 L234.1 766 L233.1 766 L232.1 766 L231.1 766 L230.1 766 L229.1 766 L228.1 766 L227.1 766 L226.1 766 L225.1 766 L224.1 766 L223.1 766 L222.1 766 L221.1 766 L220.1 766 L219.1 766 L218.1 766 L217.1 766 L216.1 766 L215.1 766.1 L214.1 766.1 L213.1 766.1 L212.1 766.1 L211.1 766.1 L210.1 766.2 L209.1 766.2 L208.1 766.2 L207.1 766.3 L206.1 766.3 L205.1 766.3 L204.1 766.4 L203.1 766.4 L202.1 766.5 L201.1 766.5 L200.1 766.6 L199.1 766.6 L198.1 766.7 L197.1 766.7 L196.1 766.8 L195.1 766.8 L194.1 766.9 L193.1 766.9 L192.1 767 L191.1 767.1 L190.1 767.1 L189.1 767.2 L188.1 767.3 L187.1 767.3 L186.1 767.4 L185.1 767.5 L184.1 767.5 L183.1 767.6 L182.1 767.7 L181.1 767.8 L180.1 767.9 L179.1 767.9 L178.1 768 L177.1 768.1 L176.1 768.2 L175.1 768.3 L174.1 768.4 L173.1 768.5 L172.1 768.6 L171.1 768.7 L170.1 768.8 Z" fill="#999999" fill-opacity="0.4"/>
<path d="M170.1 727.1 L171.1 727.3 L172.1 727.4 L173.1 727.6 L174.1 727.8 L175.1 727.9 L176.1 728.1 L177.1 728.3 L178.1 728.4 L179.1 728.6 L180.1 728.8 L181.1 729 L182.1 729.1 L183.1 729.3 L184.1 729.5 L185.1 729.7 L186.2 729.9 L187.2 730 L188.2 730.2 L189.2 730.4 L190.2 730.6 L191.2 730.8 L192.2 731 L193.2 731.1 L194.2 731.3 L195.2 731.5 L196.2 731.7 L197.2 731.9 L198.2 732.1 L199.2 732.3 L200.2 732.5 L201.2 732.7 L202.2 732.9 L203.2 733.1 L204.2 733.2 L205.2 733.4 L206.2 733.6 L207.2 733.8 L208.2 734 L209.2 734.2 L210.2 734.4 L211.2 734.6 L212.2 734.8 L213.2 735 L214.2 735.2 L215.2 735.5 L216.2 735.7 L217.2 735.9 L218.3 736.1 L219.3 736.3 L220.3 736.5 L221.3 736.7 L222.3 736.9 L223.3 737.2 L224.3 737.4 L225.3 737.6 L226.3 737.8 L227.3 738 L228.3 738.3 L229.3 738.5 L230.3 738.7 L231.3 739 L232.3 739.2 L233.3 739.4 L234.3 739.6 L235.3 739.9 L236.3 740.1 L237.3 740.3 L238.3 740.5 L239.3 740.7 L240.3 740.9 L241.3 741.1 L242.3 741.4 L243.3 741.6 L244.3 741.8 L245.3 742 L246.3 742.1 L247.3 742.3 L248.3 742.5 L249.4 742.7 L250.4 742.9 L251.4 743.1 L252.4 743.3 L253.4 743.5 L254.4 743.7 L255.4 743.8 L256.4 744 L257.4 744.2 L258.4 744.4 L259.4 744.6 L260.4 744.8 L261.4 745 L262.4 745.2 L263.4 745.4 L264.4 745.6 L265.4 745.8 L266.4 745.9 L267.4 746.1 L268.4 746.3 L269.4 746.5 L270.4 746.7 L271.4 746.9 L272.4 747.1 L273.4 747.3 L274.4 747.5 L275.4 747.7 L276.4 747.9 L277.4 748.1 L278.4 748.3 L279.4 748.5 L280.4 748.7 L281.5 748.9 L282.5 749.1 L283.5 749.3 L284.5 749.5 L285.5 749.7 L286.5 749.9 L287.5 750.1 L288.5 750.3 L289.5 750.5 L290.5 750.6 L291.5 750.8 L292.5 751 L293.5 751.2 L294.5 751.4 L295.5 751.5 L296.5 751.7 L297.5 751.9 L298.5 752.1 L299.5 752.2 L300.5 752.4 L301.5 752.6 L302.5 752.7 L303.5 752.9 L304.5 753 L305.5 753.2 L306.5 753.4 L307.5 753.5 L308.5 753.7 L309.5 753.9 L310.5 754 L311.5 754.2 L312.6 754.4 L313.6 754.6 L314.6 754.8 L315.6 754.9 L316.6 755.1 L317.6 755.3 L318.6 755.6 L319.6 755.8 L320.6 756 L321.6 756.2 L322.6 756.5 L323.6 756.7 L324.6 757 L325.6 757.2 L326.6 757.5 L327.6 757.8 L328.6 758.1 L329.6 758.4 L330.6 758.7 L331.6 759 L332.6 759.3 L333.6 759.6 L334.6 760 L335.6 760.3 L336.6 760.7 L337.6 761.1 L338.6 761.5 L339.6 761.9 L340.6 762.3 L341.6 762.8 L342.6 763.3 L343.6 763.7 L344.7 764.2 L345.7 764.8 L346.7 765.3 L347.7 765.9 L348.7 766.4 L349.7 767 L350.7 767.7 L351.7 768.3 L352.7 768.9 L353.7 769.6 L354.7 770.2 L355.7 770.9 L356.7 771.6 L357.7 772.3 L358.7 773 L359.7 773.7" fill="none" stroke="#D40000" stroke-width="4.4"/>
<path d="M399.4 810.1 L445.9 867.3" fill="none" stroke="#D40000" stroke-width="4.4"/>
<line x1="156.45" x2="458.9" y1="790.65" y2="790.65" stroke="#6E6E6E" stroke-width="3.8"/>
<line x1="242.1" x2="242.1" y1="989.77" y2="591.53" stroke="#6F6F6F" stroke-width="4.0" stroke-dasharray="15 15"/>
<line x1="442.3" x2="442.3" y1="989.77" y2="591.53" stroke="#6F6F6F" stroke-width="4.0" stroke-dasharray="15 15"/>
</g>
<line x1="156.45" x2="156.45" y1="591.53" y2="989.77" stroke="#000" stroke-width="4.4"/>
<line x1="156.45" x2="458.9" y1="989.77" y2="989.77" stroke="#000" stroke-width="4.4"/>
<line x1="145.85" x2="156.45" y1="971.67" y2="971.67" stroke="#000" stroke-width="4.3"/>
<text transform="translate(133.2 982.07) scale(1 1.015)" text-anchor="end">−2</text>
<line x1="145.85" x2="156.45" y1="881.16" y2="881.16" stroke="#000" stroke-width="4.3"/>
<text transform="translate(133.2 891.56) scale(1 1.015)" text-anchor="end">−1</text>
<line x1="145.85" x2="156.45" y1="790.65" y2="790.65" stroke="#000" stroke-width="4.3"/>
<text transform="translate(133.2 801.05) scale(1 1.015)" text-anchor="end">0</text>
<line x1="145.85" x2="156.45" y1="700.14" y2="700.14" stroke="#000" stroke-width="4.3"/>
<text transform="translate(133.2 710.54) scale(1 1.015)" text-anchor="end">1</text>
<line x1="145.85" x2="156.45" y1="609.63" y2="609.63" stroke="#000" stroke-width="4.3"/>
<text transform="translate(133.2 620.03) scale(1 1.015)" text-anchor="end">2</text>
<line x1="217.69" x2="217.69" y1="989.77" y2="1000.37" stroke="#000" stroke-width="4.3"/>
<text transform="translate(217.79 1033.2) scale(1 1.015)" text-anchor="middle">85</text>
<line x1="293.93" x2="293.93" y1="989.77" y2="1000.37" stroke="#000" stroke-width="4.3"/>
<text transform="translate(294.03 1033.2) scale(1 1.015)" text-anchor="middle">90</text>
<line x1="370.16" x2="370.16" y1="989.77" y2="1000.37" stroke="#000" stroke-width="4.3"/>
<text transform="translate(370.26 1033.2) scale(1 1.015)" text-anchor="middle">95</text>
<line x1="446.4" x2="446.4" y1="989.77" y2="1000.37" stroke="#000" stroke-width="4.3"/>
<text transform="translate(446.5 1033.2) scale(1 1.015)" text-anchor="middle">100</text>
<text transform="translate(79.3 790.6) rotate(-90) scale(1 1.015)" text-anchor="middle">Log odds</text>
<text transform="translate(158.65 561.06) scale(1 1.015)">Mean SpO2</text>
</g>
<g>
<clipPath id="cr1p1"><rect x="604" y="591.53" width="302.6" height="398.24"/></clipPath>
<g clip-path="url(#cr1p1)">
<line x1="604" x2="906.6" y1="971.67" y2="971.67" stroke="#EFEFEF" stroke-width="4.4"/>
<line x1="604" x2="906.6" y1="881.16" y2="881.16" stroke="#EFEFEF" stroke-width="4.4"/>
<line x1="604" x2="906.6" y1="790.65" y2="790.65" stroke="#EFEFEF" stroke-width="4.4"/>
<line x1="604" x2="906.6" y1="700.14" y2="700.14" stroke="#EFEFEF" stroke-width="4.4"/>
<line x1="604" x2="906.6" y1="609.63" y2="609.63" stroke="#EFEFEF" stroke-width="4.4"/>
<line x1="611" x2="611" y1="591.53" y2="989.77" stroke="#EFEFEF" stroke-width="4.4"/>
<line x1="687.92" x2="687.92" y1="591.53" y2="989.77" stroke="#EFEFEF" stroke-width="4.4"/>
<line x1="764.85" x2="764.85" y1="591.53" y2="989.77" stroke="#EFEFEF" stroke-width="4.4"/>
<line x1="841.77" x2="841.77" y1="591.53" y2="989.77" stroke="#EFEFEF" stroke-width="4.4"/>
<path d="M618 806 L619 805.6 L620 805.2 L621 804.9 L622 804.5 L623 804.1 L624 803.7 L625 803.3 L626 802.9 L627 802.5 L628 802.1 L629 801.7 L630 801.3 L631 800.8 L632 800.4 L633 800 L634 799.5 L635 799.1 L636 798.6 L637 798.2 L638 797.7 L639 797.2 L640 796.8 L641 796.3 L642 795.8 L643 795.3 L644 794.8 L645 794.3 L646 793.7 L647 793.2 L648 792.7 L649 792.2 L650 791.6 L651 791.1 L652 790.5 L653 790 L654 789.4 L655 788.8 L656 788.2 L657 787.7 L658 787.1 L659 786.5 L660 785.9 L661 785.3 L662 784.7 L663 784.1 L664 783.5 L665 782.9 L666 782.2 L667 781.6 L668 781 L669 780.3 L670 779.7 L671 779.1 L672 778.4 L673 777.8 L674 777.1 L675 776.5 L676 775.8 L677 775.2 L678 774.5 L679 773.8 L680 773.2 L681 772.5 L682 771.9 L683 771.2 L684 770.6 L685 769.9 L686 769.3 L687 768.6 L688 768 L689 767.4 L690 766.8 L691 766.2 L692 765.6 L693 765 L694 764.4 L695 763.8 L696 763.2 L697 762.7 L698 762.2 L699 761.6 L700 761.1 L701 760.6 L702 760.1 L703 759.6 L704 759.2 L705 758.7 L706 758.3 L707 757.9 L708 757.5 L709 757.1 L710 756.7 L711 756.4 L712 756 L713 755.7 L714 755.3 L715 755 L716 754.7 L717 754.4 L718 754.1 L719 753.8 L720 753.6 L721 753.3 L722 753.1 L723 752.8 L724 752.6 L725 752.4 L726 752.2 L727 751.9 L728 751.7 L729 751.5 L730 751.4 L731 751.2 L732 751 L733 750.8 L734 750.6 L735 750.5 L736 750.3 L737 750.2 L738 750 L739 749.8 L740 749.7 L741 749.6 L742 749.4 L743 749.3 L744 749.1 L745 749 L746 748.8 L747 748.7 L748 748.6 L749 748.4 L750 748.3 L751 748.2 L752 748 L753 747.9 L754 747.7 L755 747.6 L756 747.5 L757 747.3 L758 747.2 L759 747 L760 746.9 L761 746.7 L762 746.5 L763 746.4 L764 746.2 L765 746 L766 745.9 L767 745.7 L768 745.5 L769 745.3 L770 745.1 L771 745 L772 744.8 L773 744.6 L774 744.4 L775 744.2 L776 744 L777 743.8 L778 743.6 L779 743.4 L780 743.2 L781 743 L782 742.7 L783 742.5 L784 742.3 L785 742.1 L786 741.8 L787 741.6 L788 741.3 L789 741.1 L790 740.8 L791 740.6 L792 740.3 L793 740 L794 739.8 L795 739.5 L796 739.2 L797 738.9 L798 738.6 L799 738.3 L800 738 L801 737.7 L802 737.4 L803 737.1 L804 736.8 L805 736.5 L806 736.1 L807 735.8 L808 735.5 L809 735.2 L810 734.9 L811 734.6 L812 734.2 L813 733.9 L814 733.6 L815 733.3 L816 733 L817 732.6 L818 732.3 L819 732 L820 731.7 L821 731.3 L822 731 L823 730.7 L824 730.3 L825 730 L826 729.7 L827 729.3 L828 729 L829 728.7 L830 728.4 L831 728 L832 727.7 L833 727.4 L834 727 L835 726.7 L836 726.4 L837 726.1 L838 725.7 L839 725.4 L840 725.1 L841 724.8 L842 724.4 L843 724.1 L844 723.8 L845 723.5 L846 723.1 L847 722.8 L848 722.5 L849 722.2 L850 721.8 L851 721.5 L852 721.2 L853 720.9 L854 720.6 L855 720.2 L856 719.9 L857 719.6 L858 719.3 L859 719 L860 718.6 L861 718.3 L862 718 L863 717.7 L864 717.4 L865 717.1 L866 716.7 L867 716.4 L868 716.1 L869 715.8 L870 715.5 L871 715.2 L872 714.8 L873 714.5 L874 714.2 L875 713.9 L876 713.6 L877 713.3 L878 713 L879 712.6 L880 712.3 L881 712 L882 711.7 L883 711.4 L884 711.1 L885 710.8 L886 710.5 L887 710.2 L888 709.8 L889 709.5 L890 709.2 L891 708.9 L892 708.6 L893 708.3 L893 807.6 L892 807.3 L891 807.1 L890 806.8 L889 806.6 L888 806.3 L887 806.1 L886 805.8 L885 805.6 L884 805.3 L883 805.1 L882 804.8 L881 804.6 L880 804.3 L879 804.1 L878 803.8 L877 803.6 L876 803.4 L875 803.1 L874 802.9 L873 802.7 L872 802.4 L871 802.2 L870 802 L869 801.8 L868 801.6 L867 801.3 L866 801.1 L865 800.9 L864 800.7 L863 800.5 L862 800.3 L861 800.1 L860 799.9 L859 799.7 L858 799.5 L857 799.3 L856 799.1 L855 798.9 L854 798.7 L853 798.5 L852 798.3 L851 798.1 L850 797.9 L849 797.7 L848 797.5 L847 797.3 L846 797.1 L845 796.9 L844 796.7 L843 796.5 L842 796.3 L841 796.1 L840 795.9 L839 795.7 L838 795.5 L837 795.3 L836 795.1 L835 794.9 L834 794.7 L833 794.5 L832 794.3 L831 794.1 L830 793.9 L829 793.7 L828 793.5 L827 793.3 L826 793.1 L825 792.9 L824 792.7 L823 792.5 L822 792.3 L821 792.1 L820 791.9 L819 791.8 L818 791.6 L817 791.4 L816 791.2 L815 791 L814 790.8 L813 790.6 L812 790.4 L811 790.2 L810 790 L809 789.8 L808 789.7 L807 789.5 L806 789.3 L805 789.2 L804 789 L803 788.9 L802 788.8 L801 788.6 L800 788.5 L799 788.4 L798 788.3 L797 788.2 L796 788.1 L795 788 L794 787.9 L793 787.8 L792 787.8 L791 787.7 L790 787.6 L789 787.6 L788 787.5 L787 787.4 L786 787.3 L785 787.3 L784 787.2 L783 787.1 L782 787.1 L781 787 L780 786.9 L779 786.9 L778 786.8 L777 786.7 L776 786.6 L775 786.5 L774 786.5 L773 786.4 L772 786.3 L771 786.2 L770 786.1 L769 786 L768 785.9 L767 785.8 L766 785.7 L765 785.6 L764 785.5 L763 785.5 L762 785.4 L761 785.3 L760 785.2 L759 785.2 L758 785.1 L757 785.1 L756 785.1 L755 785 L754 785 L753 785 L752 785 L751 785 L750 785 L749 785.1 L748 785.1 L747 785.1 L746 785.2 L745 785.3 L744 785.3 L743 785.4 L742 785.5 L741 785.5 L740 785.6 L739 785.7 L738 785.8 L737 785.9 L736 786 L735 786.2 L734 786.3 L733 786.4 L732 786.5 L731 786.7 L730 786.8 L729 787 L728 787.2 L727 787.4 L726 787.6 L725 787.8 L724 788 L723 788.3 L722 788.5 L721 788.7 L720 789 L719 789.3 L718 789.5 L717 789.8 L716 790.1 L715 790.4 L714 790.6 L713 790.9 L712 791.2 L711 791.5 L710 791.9 L709 792.2 L708 792.5 L707 792.9 L706 793.2 L705 793.6 L704 794 L703 794.4 L702 794.8 L701 795.2 L700 795.7 L699 796.1 L698 796.6 L697 797.1 L696 797.6 L695 798.1 L694 798.7 L693 799.2 L692 799.8 L691 800.3 L690 800.9 L689 801.5 L688 802.1 L687 802.7 L686 803.4 L685 804 L684 804.7 L683 805.4 L682 806.1 L681 806.8 L680 807.6 L679 808.3 L678 809.1 L677 810 L676 810.8 L675 811.7 L674 812.6 L673 813.6 L672 814.6 L671 815.6 L670 816.6 L669 817.7 L668 818.8 L667 819.9 L666 821 L665 822.1 L664 823.3 L663 824.5 L662 825.6 L661 826.8 L660 828 L659 829.1 L658 830.3 L657 831.5 L656 832.7 L655 833.9 L654 835.1 L653 836.3 L652 837.5 L651 838.7 L650 840 L649 841.2 L648 842.4 L647 843.7 L646 844.9 L645 846.2 L644 847.5 L643 848.7 L642 850 L641 851.3 L640 852.6 L639 853.9 L638 855.2 L637 856.5 L636 857.8 L635 859.1 L634 860.4 L633 861.8 L632 863.1 L631 864.4 L630 865.8 L629 867.1 L628 868.5 L627 869.8 L626 871.2 L625 872.5 L624 873.9 L623 875.3 L622 876.7 L621 878 L620 879.4 L619 880.8 L618 882.2 Z" fill="#999999" fill-opacity="0.4"/>
<path d="M618 844 L619 843 L620 842.1 L621 841.1 L622 840.1 L623 839.2 L624 838.2 L625 837.2 L626 836.3 L627.1 835.3 L628.1 834.4 L629.1 833.4 L630.1 832.5 L631.1 831.5 L632.1 830.6 L633.1 829.7 L634.1 828.7 L635.1 827.8 L636.1 826.9 L637.1 825.9 L638.1 825 L639.1 824.1 L640.1 823.2 L641.1 822.2 L642.1 821.3 L643.1 820.4 L644.1 819.5 L645.2 818.6 L646.2 817.7 L647.2 816.8 L648.2 815.9 L649.2 815 L650.2 814.1 L651.2 813.2 L652.2 812.3 L653.2 811.4" fill="none" stroke="#D40000" stroke-width="4.4"/>
<path d="M714.5 772.2 L715.5 772 L716.5 771.8 L717.5 771.6 L718.5 771.4 L719.5 771.2 L720.5 771 L721.6 770.8 L722.6 770.6 L723.6 770.4 L724.6 770.2 L725.6 770.1 L726.6 769.9 L727.6 769.7 L728.6 769.6 L729.6 769.4 L730.6 769.3 L731.6 769.1 L732.6 769 L733.6 768.8 L734.7 768.7 L735.7 768.6 L736.7 768.5 L737.7 768.3 L738.7 768.2 L739.7 768.1 L740.7 768 L741.7 767.9 L742.7 767.8 L743.7 767.7 L744.7 767.6 L745.7 767.5 L746.7 767.4 L747.8 767.3 L748.8 767.2 L749.8 767.1 L750.8 767 L751.8 766.9 L752.8 766.8 L753.8 766.7 L754.8 766.6 L755.8 766.5 L756.8 766.4 L757.8 766.3 L758.8 766.3 L759.8 766.2 L760.9 766.1 L761.9 766 L762.9 766 L763.9 765.9 L764.9 765.8 L765.9 765.7 L766.9 765.7 L767.9 765.6 L768.9 765.5 L769.9 765.4 L770.9 765.4 L771.9 765.3 L772.9 765.2 L773.9 765.2 L775 765.1 L776 765 L777 765 L778 764.9 L779 764.9 L780 764.8 L781 764.7 L782 764.7 L783 764.6 L784 764.5 L785 764.5 L786 764.4 L787 764.4 L788.1 764.3 L789.1 764.3 L790.1 764.2 L791.1 764.2 L792.1 764.1 L793.1 764.1 L794.1 764 L795.1 764 L796.1 763.9 L797.1 763.9 L798.1 763.8 L799.1 763.8 L800.1 763.8 L801.2 763.7 L802.2 763.7 L803.2 763.6 L804.2 763.6 L805.2 763.6 L806.2 763.5 L807.2 763.5" fill="none" stroke="#D40000" stroke-width="4.4"/>
<line x1="604" x2="906.6" y1="790.65" y2="790.65" stroke="#6E6E6E" stroke-width="3.8"/>
<line x1="627.9" x2="627.9" y1="989.77" y2="591.53" stroke="#6F6F6F" stroke-width="4.0" stroke-dasharray="15 15"/>
<line x1="832.3" x2="832.3" y1="989.77" y2="591.53" stroke="#6F6F6F" stroke-width="4.0" stroke-dasharray="15 15"/>
</g>
<line x1="604" x2="604" y1="591.53" y2="989.77" stroke="#000" stroke-width="4.4"/>
<line x1="604" x2="906.6" y1="989.77" y2="989.77" stroke="#000" stroke-width="4.4"/>
<line x1="593.4" x2="604" y1="971.67" y2="971.67" stroke="#000" stroke-width="4.3"/>
<text transform="translate(580.75 982.07) scale(1 1.015)" text-anchor="end">−2</text>
<line x1="593.4" x2="604" y1="881.16" y2="881.16" stroke="#000" stroke-width="4.3"/>
<text transform="translate(580.75 891.56) scale(1 1.015)" text-anchor="end">−1</text>
<line x1="593.4" x2="604" y1="790.65" y2="790.65" stroke="#000" stroke-width="4.3"/>
<text transform="translate(580.75 801.05) scale(1 1.015)" text-anchor="end">0</text>
<line x1="593.4" x2="604" y1="700.14" y2="700.14" stroke="#000" stroke-width="4.3"/>
<text transform="translate(580.75 710.54) scale(1 1.015)" text-anchor="end">1</text>
<line x1="593.4" x2="604" y1="609.63" y2="609.63" stroke="#000" stroke-width="4.3"/>
<text transform="translate(580.75 620.03) scale(1 1.015)" text-anchor="end">2</text>
<line x1="611" x2="611" y1="989.77" y2="1000.37" stroke="#000" stroke-width="4.3"/>
<text transform="translate(611.1 1033.2) scale(1 1.015)" text-anchor="middle">0.0</text>
<line x1="687.92" x2="687.92" y1="989.77" y2="1000.37" stroke="#000" stroke-width="4.3"/>
<text transform="translate(688.02 1033.2) scale(1 1.015)" text-anchor="middle">2.5</text>
<line x1="764.85" x2="764.85" y1="989.77" y2="1000.37" stroke="#000" stroke-width="4.3"/>
<text transform="translate(764.95 1033.2) scale(1 1.015)" text-anchor="middle">5.0</text>
<line x1="841.77" x2="841.77" y1="989.77" y2="1000.37" stroke="#000" stroke-width="4.3"/>
<text transform="translate(841.88 1033.2) scale(1 1.015)" text-anchor="middle">7.5</text>
<text transform="translate(527.2 790.6) rotate(-90) scale(1 1.015)" text-anchor="middle">Log odds</text>
<text transform="translate(605.6 561.06) scale(1 1.015)">SD SpO2</text>
</g>
<g>
<clipPath id="cr1p2"><rect x="1056.05" y="591.53" width="302.75" height="398.24"/></clipPath>
<g clip-path="url(#cr1p2)">
<line x1="1056.05" x2="1358.8" y1="971.67" y2="971.67" stroke="#EFEFEF" stroke-width="4.4"/>
<line x1="1056.05" x2="1358.8" y1="881.16" y2="881.16" stroke="#EFEFEF" stroke-width="4.4"/>
<line x1="1056.05" x2="1358.8" y1="790.65" y2="790.65" stroke="#EFEFEF" stroke-width="4.4"/>
<line x1="1056.05" x2="1358.8" y1="700.14" y2="700.14" stroke="#EFEFEF" stroke-width="4.4"/>
<line x1="1056.05" x2="1358.8" y1="609.63" y2="609.63" stroke="#EFEFEF" stroke-width="4.4"/>
<line x1="1056.8" x2="1056.8" y1="591.53" y2="989.77" stroke="#EFEFEF" stroke-width="4.4"/>
<line x1="1115.64" x2="1115.64" y1="591.53" y2="989.77" stroke="#EFEFEF" stroke-width="4.4"/>
<line x1="1174.48" x2="1174.48" y1="591.53" y2="989.77" stroke="#EFEFEF" stroke-width="4.4"/>
<line x1="1233.32" x2="1233.32" y1="591.53" y2="989.77" stroke="#EFEFEF" stroke-width="4.4"/>
<line x1="1292.16" x2="1292.16" y1="591.53" y2="989.77" stroke="#EFEFEF" stroke-width="4.4"/>
<line x1="1351" x2="1351" y1="591.53" y2="989.77" stroke="#EFEFEF" stroke-width="4.4"/>
<path d="M1068.6 716.5 L1069.6 720.7 L1070.6 725 L1071.6 729.1 L1072.6 733.1 L1073.6 736.9 L1074.6 740.6 L1075.6 744.1 L1076.6 747.4 L1077.6 750.6 L1078.6 753.5 L1079.6 756.2 L1080.6 758.8 L1081.6 761.2 L1082.6 763.5 L1083.6 765.6 L1084.6 767.6 L1085.6 769.4 L1086.6 771.2 L1087.6 772.8 L1088.6 774.4 L1089.6 775.8 L1090.6 777.2 L1091.6 778.5 L1092.6 779.7 L1093.6 780.9 L1094.6 782 L1095.6 783.1 L1096.7 784.2 L1097.7 785.2 L1098.7 786.2 L1099.7 787.1 L1100.7 788.1 L1101.7 789 L1102.7 789.9 L1103.7 790.8 L1104.7 791.7 L1105.7 792.5 L1106.7 793.4 L1107.7 794.1 L1108.7 794.9 L1109.7 795.6 L1110.7 796.3 L1111.7 796.9 L1112.7 797.5 L1113.7 798.1 L1114.7 798.6 L1115.7 799.1 L1116.7 799.6 L1117.7 800 L1118.7 800.4 L1119.7 800.8 L1120.7 801.1 L1121.7 801.4 L1122.7 801.7 L1123.7 801.9 L1124.7 802.2 L1125.7 802.4 L1126.7 802.6 L1127.7 802.8 L1128.7 803 L1129.7 803.1 L1130.7 803.3 L1131.7 803.4 L1132.7 803.5 L1133.7 803.6 L1134.7 803.7 L1135.7 803.8 L1136.7 803.8 L1137.7 803.9 L1138.7 803.9 L1139.7 803.9 L1140.7 803.9 L1141.7 803.9 L1142.7 803.9 L1143.7 803.9 L1144.7 803.9 L1145.7 803.8 L1146.7 803.8 L1147.7 803.8 L1148.7 803.7 L1149.7 803.7 L1150.7 803.6 L1151.8 803.6 L1152.8 803.6 L1153.8 803.5 L1154.8 803.5 L1155.8 803.4 L1156.8 803.4 L1157.8 803.3 L1158.8 803.2 L1159.8 803.2 L1160.8 803.1 L1161.8 803 L1162.8 803 L1163.8 802.9 L1164.8 802.8 L1165.8 802.7 L1166.8 802.6 L1167.8 802.6 L1168.8 802.5 L1169.8 802.3 L1170.8 802.2 L1171.8 802.1 L1172.8 802 L1173.8 801.9 L1174.8 801.8 L1175.8 801.6 L1176.8 801.5 L1177.8 801.4 L1178.8 801.2 L1179.8 801.1 L1180.8 801 L1181.8 800.8 L1182.8 800.7 L1183.8 800.5 L1184.8 800.4 L1185.8 800.2 L1186.8 800.1 L1187.8 799.9 L1188.8 799.8 L1189.8 799.6 L1190.8 799.5 L1191.8 799.3 L1192.8 799.1 L1193.8 799 L1194.8 798.8 L1195.8 798.7 L1196.8 798.5 L1197.8 798.3 L1198.8 798.2 L1199.8 798 L1200.8 797.8 L1201.8 797.6 L1202.8 797.5 L1203.8 797.3 L1204.8 797.1 L1205.8 796.9 L1206.8 796.7 L1207.9 796.5 L1208.9 796.3 L1209.9 796.1 L1210.9 795.9 L1211.9 795.7 L1212.9 795.5 L1213.9 795.3 L1214.9 795.1 L1215.9 794.9 L1216.9 794.7 L1217.9 794.5 L1218.9 794.3 L1219.9 794.1 L1220.9 793.9 L1221.9 793.7 L1222.9 793.5 L1223.9 793.3 L1224.9 793.1 L1225.9 792.9 L1226.9 792.7 L1227.9 792.5 L1228.9 792.3 L1229.9 792.1 L1230.9 791.9 L1231.9 791.7 L1232.9 791.5 L1233.9 791.3 L1234.9 791.1 L1235.9 790.8 L1236.9 790.6 L1237.9 790.4 L1238.9 790.2 L1239.9 790 L1240.9 789.8 L1241.9 789.6 L1242.9 789.4 L1243.9 789.1 L1244.9 788.9 L1245.9 788.7 L1246.9 788.5 L1247.9 788.3 L1248.9 788 L1249.9 787.8 L1250.9 787.6 L1251.9 787.4 L1252.9 787.1 L1253.9 786.9 L1254.9 786.7 L1255.9 786.5 L1256.9 786.2 L1257.9 786 L1258.9 785.8 L1259.9 785.5 L1260.9 785.3 L1261.9 785 L1263 784.8 L1264 784.6 L1265 784.3 L1266 784.1 L1267 783.8 L1268 783.6 L1269 783.3 L1270 783.1 L1271 782.8 L1272 782.6 L1273 782.4 L1274 782.1 L1275 781.9 L1276 781.6 L1277 781.4 L1278 781.1 L1279 780.9 L1280 780.6 L1281 780.4 L1282 780.1 L1283 779.9 L1284 779.7 L1285 779.4 L1286 779.2 L1287 778.9 L1288 778.7 L1289 778.4 L1290 778.2 L1291 778 L1292 777.7 L1293 777.5 L1294 777.2 L1295 777 L1296 776.8 L1297 776.5 L1298 776.3 L1299 776.1 L1300 775.8 L1301 775.6 L1302 775.4 L1303 775.1 L1304 774.9 L1305 774.7 L1306 774.4 L1307 774.2 L1308 774 L1309 773.7 L1310 773.5 L1311 773.3 L1312 773.1 L1313 772.8 L1314 772.6 L1315 772.4 L1316 772.1 L1317 771.9 L1318.1 771.7 L1319.1 771.5 L1320.1 771.2 L1321.1 771 L1322.1 770.8 L1323.1 770.5 L1324.1 770.3 L1325.1 770.1 L1326.1 769.9 L1327.1 769.6 L1328.1 769.4 L1329.1 769.2 L1330.1 769 L1331.1 768.7 L1332.1 768.5 L1333.1 768.3 L1334.1 768.1 L1335.1 767.8 L1336.1 767.6 L1337.1 767.4 L1338.1 767.2 L1339.1 766.9 L1340.1 766.7 L1341.1 766.5 L1342.1 766.3 L1343.1 766 L1344.1 765.8 L1345.1 765.6 L1345.1 971.3 L1344.1 970.7 L1343.1 970.1 L1342.1 969.5 L1341.1 968.9 L1340.1 968.3 L1339.1 967.7 L1338.1 967 L1337.1 966.4 L1336.1 965.8 L1335.1 965.2 L1334.1 964.6 L1333.1 964 L1332.1 963.4 L1331.1 962.8 L1330.1 962.2 L1329.1 961.5 L1328.1 960.9 L1327.1 960.3 L1326.1 959.7 L1325.1 959.1 L1324.1 958.5 L1323.1 957.9 L1322.1 957.2 L1321.1 956.6 L1320.1 956 L1319.1 955.4 L1318.1 954.8 L1317 954.2 L1316 953.5 L1315 952.9 L1314 952.3 L1313 951.7 L1312 951.1 L1311 950.4 L1310 949.8 L1309 949.2 L1308 948.6 L1307 947.9 L1306 947.3 L1305 946.7 L1304 946.1 L1303 945.5 L1302 944.8 L1301 944.2 L1300 943.6 L1299 943 L1298 942.3 L1297 941.7 L1296 941.1 L1295 940.4 L1294 939.8 L1293 939.2 L1292 938.5 L1291 937.9 L1290 937.3 L1289 936.6 L1288 936 L1287 935.3 L1286 934.7 L1285 934.1 L1284 933.4 L1283 932.8 L1282 932.1 L1281 931.5 L1280 930.8 L1279 930.2 L1278 929.5 L1277 928.9 L1276 928.2 L1275 927.6 L1274 927 L1273 926.3 L1272 925.7 L1271 925 L1270 924.4 L1269 923.8 L1268 923.2 L1267 922.5 L1266 921.9 L1265 921.3 L1264 920.7 L1263 920.1 L1261.9 919.5 L1260.9 918.9 L1259.9 918.3 L1258.9 917.7 L1257.9 917.1 L1256.9 916.6 L1255.9 916 L1254.9 915.4 L1253.9 914.9 L1252.9 914.3 L1251.9 913.7 L1250.9 913.2 L1249.9 912.6 L1248.9 912.1 L1247.9 911.5 L1246.9 911 L1245.9 910.5 L1244.9 909.9 L1243.9 909.4 L1242.9 908.8 L1241.9 908.3 L1240.9 907.7 L1239.9 907.2 L1238.9 906.7 L1237.9 906.1 L1236.9 905.6 L1235.9 905 L1234.9 904.5 L1233.9 903.9 L1232.9 903.3 L1231.9 902.8 L1230.9 902.2 L1229.9 901.6 L1228.9 901.1 L1227.9 900.5 L1226.9 899.9 L1225.9 899.3 L1224.9 898.7 L1223.9 898.1 L1222.9 897.5 L1221.9 896.9 L1220.9 896.2 L1219.9 895.6 L1218.9 895 L1217.9 894.3 L1216.9 893.7 L1215.9 893 L1214.9 892.3 L1213.9 891.6 L1212.9 891 L1211.9 890.3 L1210.9 889.6 L1209.9 888.9 L1208.9 888.2 L1207.9 887.6 L1206.8 886.9 L1205.8 886.2 L1204.8 885.5 L1203.8 884.9 L1202.8 884.2 L1201.8 883.6 L1200.8 882.9 L1199.8 882.3 L1198.8 881.7 L1197.8 881.1 L1196.8 880.5 L1195.8 879.9 L1194.8 879.3 L1193.8 878.7 L1192.8 878.2 L1191.8 877.6 L1190.8 877 L1189.8 876.5 L1188.8 876 L1187.8 875.4 L1186.8 874.9 L1185.8 874.4 L1184.8 873.9 L1183.8 873.4 L1182.8 872.9 L1181.8 872.4 L1180.8 871.9 L1179.8 871.4 L1178.8 871 L1177.8 870.5 L1176.8 870 L1175.8 869.6 L1174.8 869.1 L1173.8 868.7 L1172.8 868.2 L1171.8 867.8 L1170.8 867.4 L1169.8 866.9 L1168.8 866.5 L1167.8 866.1 L1166.8 865.7 L1165.8 865.3 L1164.8 864.9 L1163.8 864.5 L1162.8 864.1 L1161.8 863.7 L1160.8 863.3 L1159.8 862.9 L1158.8 862.5 L1157.8 862.2 L1156.8 861.8 L1155.8 861.3 L1154.8 860.9 L1153.8 860.5 L1152.8 860.1 L1151.8 859.6 L1150.7 859.2 L1149.7 858.7 L1148.7 858.3 L1147.7 857.8 L1146.7 857.3 L1145.7 856.8 L1144.7 856.3 L1143.7 855.8 L1142.7 855.3 L1141.7 854.8 L1140.7 854.4 L1139.7 853.9 L1138.7 853.5 L1137.7 853.1 L1136.7 852.7 L1135.7 852.3 L1134.7 852 L1133.7 851.7 L1132.7 851.4 L1131.7 851 L1130.7 850.7 L1129.7 850.4 L1128.7 850.2 L1127.7 849.9 L1126.7 849.5 L1125.7 849.2 L1124.7 848.9 L1123.7 848.5 L1122.7 848.1 L1121.7 847.7 L1120.7 847.3 L1119.7 846.9 L1118.7 846.4 L1117.7 845.8 L1116.7 845.2 L1115.7 844.6 L1114.7 843.9 L1113.7 843.1 L1112.7 842.3 L1111.7 841.4 L1110.7 840.4 L1109.7 839.4 L1108.7 838.2 L1107.7 836.9 L1106.7 835.6 L1105.7 834.2 L1104.7 832.7 L1103.7 831.2 L1102.7 829.5 L1101.7 827.9 L1100.7 826.1 L1099.7 824.4 L1098.7 822.6 L1097.7 820.7 L1096.7 818.9 L1095.6 817 L1094.6 815 L1093.6 813.1 L1092.6 811.2 L1091.6 809.2 L1090.6 807.3 L1089.6 805.3 L1088.6 803.4 L1087.6 801.5 L1086.6 799.6 L1085.6 797.8 L1084.6 795.9 L1083.6 794.1 L1082.6 792.3 L1081.6 790.5 L1080.6 788.6 L1079.6 786.7 L1078.6 784.8 L1077.6 782.8 L1076.6 780.6 L1075.6 778.4 L1074.6 775.9 L1073.6 773.3 L1072.6 770.5 L1071.6 767.6 L1070.6 764.5 L1069.6 761.3 L1068.6 758 Z" fill="#999999" fill-opacity="0.4"/>
<path d="M1068.6 745.2 L1081.7 775.3" fill="none" stroke="#D40000" stroke-width="4.4"/>
<path d="M1101.8 811.7 L1102.8 812.6 L1103.8 813.5 L1104.8 814.4 L1105.8 815.3 L1106.8 816.1 L1107.8 817 L1108.8 817.8 L1109.8 818.5 L1110.8 819.2 L1111.8 819.9 L1112.8 820.6 L1113.8 821.2 L1114.8 821.8 L1115.8 822.4 L1116.8 822.9 L1117.8 823.4 L1118.8 823.9 L1119.8 824.4 L1120.8 824.8 L1121.8 825.2 L1122.8 825.6 L1123.8 826 L1124.8 826.4 L1125.9 826.7 L1126.9 827 L1127.9 827.3 L1128.9 827.6 L1129.9 827.9 L1130.9 828.1 L1131.9 828.4 L1132.9 828.6 L1133.9 828.8 L1134.9 829.1 L1135.9 829.3 L1136.9 829.5 L1137.9 829.6 L1138.9 829.8 L1139.9 830 L1140.9 830.2 L1141.9 830.3 L1142.9 830.5 L1143.9 830.7 L1144.9 830.8 L1145.9 831 L1146.9 831.2 L1147.9 831.4 L1148.9 831.5 L1149.9 831.7 L1150.9 831.9 L1151.9 832.1 L1152.9 832.2 L1153.9 832.4 L1154.9 832.6 L1155.9 832.8 L1156.9 833 L1157.9 833.2 L1158.9 833.4 L1159.9 833.5 L1160.9 833.7 L1161.9 833.9 L1162.9 834.1 L1163.9 834.3 L1164.9 834.5 L1165.9 834.7 L1166.9 834.8 L1167.9 835 L1168.9 835.2 L1169.9 835.4 L1170.9 835.6 L1172 835.8 L1173 836 L1174 836.2 L1175 836.4 L1176 836.5 L1177 836.7 L1178 836.9 L1179 837.1 L1180 837.3 L1181 837.5 L1182 837.7 L1183 837.9 L1184 838.1 L1185 838.3 L1186 838.5 L1187 838.6 L1188 838.8 L1189 839 L1190 839.2 L1191 839.4 L1192 839.6 L1193 839.8 L1194 840 L1195 840.2 L1196 840.4 L1197 840.6 L1198 840.8 L1199 841 L1200 841.2 L1201 841.4 L1202 841.6 L1203 841.8 L1204 842 L1205 842.2 L1206 842.4 L1207 842.6 L1208 842.8 L1209 843 L1210 843.2 L1211 843.4 L1212 843.6 L1213 843.8 L1214 844 L1215 844.2 L1216 844.4 L1217 844.6 L1218.1 844.8 L1219.1 845 L1220.1 845.2 L1221.1 845.4 L1222.1 845.6 L1223.1 845.8 L1224.1 846.1 L1225.1 846.3 L1226.1 846.5 L1227.1 846.7 L1228.1 846.9 L1229.1 847.1 L1230.1 847.3 L1231.1 847.5 L1232.1 847.7 L1233.1 847.9 L1234.1 848.1 L1235.1 848.3 L1236.1 848.6 L1237.1 848.8 L1238.1 849 L1239.1 849.2 L1240.1 849.4" fill="none" stroke="#D40000" stroke-width="4.4"/>
<line x1="1056.05" x2="1358.8" y1="790.65" y2="790.65" stroke="#6E6E6E" stroke-width="3.8"/>
<line x1="1071.1" x2="1071.1" y1="989.77" y2="591.53" stroke="#6F6F6F" stroke-width="4.0" stroke-dasharray="15 15"/>
<line x1="1224.4" x2="1224.4" y1="989.77" y2="591.53" stroke="#6F6F6F" stroke-width="4.0" stroke-dasharray="15 15"/>
</g>
<line x1="1056.05" x2="1056.05" y1="591.53" y2="989.77" stroke="#000" stroke-width="4.4"/>
<line x1="1056.05" x2="1358.8" y1="989.77" y2="989.77" stroke="#000" stroke-width="4.4"/>
<line x1="1045.45" x2="1056.05" y1="971.67" y2="971.67" stroke="#000" stroke-width="4.3"/>
<text transform="translate(1032.8 982.07) scale(1 1.015)" text-anchor="end">−2</text>
<line x1="1045.45" x2="1056.05" y1="881.16" y2="881.16" stroke="#000" stroke-width="4.3"/>
<text transform="translate(1032.8 891.56) scale(1 1.015)" text-anchor="end">−1</text>
<line x1="1045.45" x2="1056.05" y1="790.65" y2="790.65" stroke="#000" stroke-width="4.3"/>
<text transform="translate(1032.8 801.05) scale(1 1.015)" text-anchor="end">0</text>
<line x1="1045.45" x2="1056.05" y1="700.14" y2="700.14" stroke="#000" stroke-width="4.3"/>
<text transform="translate(1032.8 710.54) scale(1 1.015)" text-anchor="end">1</text>
<line x1="1045.45" x2="1056.05" y1="609.63" y2="609.63" stroke="#000" stroke-width="4.3"/>
<text transform="translate(1032.8 620.03) scale(1 1.015)" text-anchor="end">2</text>
<line x1="1056.8" x2="1056.8" y1="989.77" y2="1000.37" stroke="#000" stroke-width="4.3"/>
<text transform="translate(1056.9 1033.2) scale(1 1.015)" text-anchor="middle">0</text>
<line x1="1115.64" x2="1115.64" y1="989.77" y2="1000.37" stroke="#000" stroke-width="4.3"/>
<text transform="translate(1115.74 1033.2) scale(1 1.015)" text-anchor="middle">10</text>
<line x1="1174.48" x2="1174.48" y1="989.77" y2="1000.37" stroke="#000" stroke-width="4.3"/>
<text transform="translate(1174.58 1033.2) scale(1 1.015)" text-anchor="middle">20</text>
<line x1="1233.32" x2="1233.32" y1="989.77" y2="1000.37" stroke="#000" stroke-width="4.3"/>
<text transform="translate(1233.42 1033.2) scale(1 1.015)" text-anchor="middle">30</text>
<line x1="1292.16" x2="1292.16" y1="989.77" y2="1000.37" stroke="#000" stroke-width="4.3"/>
<text transform="translate(1292.26 1033.2) scale(1 1.015)" text-anchor="middle">40</text>
<line x1="1351" x2="1351" y1="989.77" y2="1000.37" stroke="#000" stroke-width="4.3"/>
<text transform="translate(1351.1 1033.2) scale(1 1.015)" text-anchor="middle">50</text>
<text transform="translate(973.2 795) rotate(-90) scale(1 1.015)" text-anchor="middle">Log odds</text>
<text transform="translate(1054.3 561.06) scale(1 1.015)">Kurtosis SpO2</text>
</g>
<g>
<clipPath id="cr1p3"><rect x="1503.6" y="591.53" width="304.4" height="398.24"/></clipPath>
<g clip-path="url(#cr1p3)">
<line x1="1503.6" x2="1808" y1="971.67" y2="971.67" stroke="#EFEFEF" stroke-width="4.4"/>
<line x1="1503.6" x2="1808" y1="881.16" y2="881.16" stroke="#EFEFEF" stroke-width="4.4"/>
<line x1="1503.6" x2="1808" y1="790.65" y2="790.65" stroke="#EFEFEF" stroke-width="4.4"/>
<line x1="1503.6" x2="1808" y1="700.14" y2="700.14" stroke="#EFEFEF" stroke-width="4.4"/>
<line x1="1503.6" x2="1808" y1="609.63" y2="609.63" stroke="#EFEFEF" stroke-width="4.4"/>
<line x1="1513.8" x2="1513.8" y1="591.53" y2="989.77" stroke="#EFEFEF" stroke-width="4.4"/>
<line x1="1603.1" x2="1603.1" y1="591.53" y2="989.77" stroke="#EFEFEF" stroke-width="4.4"/>
<line x1="1692.4" x2="1692.4" y1="591.53" y2="989.77" stroke="#EFEFEF" stroke-width="4.4"/>
<line x1="1781.7" x2="1781.7" y1="591.53" y2="989.77" stroke="#EFEFEF" stroke-width="4.4"/>
<path d="M1516.9 802.5 L1517.9 802.5 L1518.9 802.5 L1519.9 802.5 L1520.9 802.5 L1521.9 802.5 L1522.9 802.5 L1523.9 802.5 L1524.9 802.5 L1525.9 802.5 L1526.9 802.5 L1527.9 802.5 L1528.9 802.5 L1529.9 802.5 L1530.9 802.5 L1531.9 802.4 L1532.9 802.4 L1533.9 802.4 L1534.9 802.4 L1535.9 802.4 L1536.9 802.4 L1537.9 802.4 L1538.9 802.4 L1539.9 802.4 L1540.9 802.4 L1541.9 802.4 L1542.9 802.3 L1543.9 802.3 L1545 802.3 L1546 802.3 L1547 802.3 L1548 802.3 L1549 802.3 L1550 802.3 L1551 802.2 L1552 802.2 L1553 802.2 L1554 802.2 L1555 802.2 L1556 802.2 L1557 802.2 L1558 802.1 L1559 802.1 L1560 802.1 L1561 802.1 L1562 802.1 L1563 802.1 L1564 802.1 L1565 802 L1566 802 L1567 802 L1568 802 L1569 802 L1570 801.9 L1571 801.9 L1572 801.9 L1573 801.9 L1574 801.9 L1575 801.9 L1576 801.8 L1577 801.8 L1578 801.8 L1579 801.8 L1580 801.8 L1581 801.7 L1582 801.7 L1583 801.7 L1584 801.7 L1585 801.7 L1586 801.6 L1587 801.6 L1588 801.6 L1589 801.6 L1590 801.5 L1591 801.5 L1592 801.5 L1593 801.5 L1594 801.5 L1595 801.4 L1596 801.4 L1597 801.4 L1598 801.4 L1599 801.3 L1600.1 801.3 L1601.1 801.3 L1602.1 801.3 L1603.1 801.2 L1604.1 801.2 L1605.1 801.2 L1606.1 801.2 L1607.1 801.1 L1608.1 801.1 L1609.1 801.1 L1610.1 801 L1611.1 801 L1612.1 801 L1613.1 800.9 L1614.1 800.9 L1615.1 800.9 L1616.1 800.8 L1617.1 800.8 L1618.1 800.7 L1619.1 800.7 L1620.1 800.7 L1621.1 800.6 L1622.1 800.6 L1623.1 800.5 L1624.1 800.5 L1625.1 800.4 L1626.1 800.4 L1627.1 800.4 L1628.1 800.3 L1629.1 800.3 L1630.1 800.2 L1631.1 800.2 L1632.1 800.1 L1633.1 800 L1634.1 800 L1635.1 799.9 L1636.1 799.9 L1637.1 799.8 L1638.1 799.8 L1639.1 799.7 L1640.1 799.6 L1641.1 799.6 L1642.1 799.5 L1643.1 799.5 L1644.1 799.4 L1645.1 799.3 L1646.1 799.3 L1647.1 799.2 L1648.1 799.1 L1649.1 799 L1650.1 799 L1651.1 798.9 L1652.1 798.8 L1653.1 798.7 L1654.1 798.6 L1655.2 798.5 L1656.2 798.4 L1657.2 798.3 L1658.2 798.2 L1659.2 798.1 L1660.2 798 L1661.2 797.8 L1662.2 797.7 L1663.2 797.6 L1664.2 797.4 L1665.2 797.3 L1666.2 797.1 L1667.2 796.9 L1668.2 796.8 L1669.2 796.6 L1670.2 796.4 L1671.2 796.2 L1672.2 796 L1673.2 795.7 L1674.2 795.5 L1675.2 795.2 L1676.2 795 L1677.2 794.7 L1678.2 794.4 L1679.2 794 L1680.2 793.7 L1681.2 793.3 L1682.2 792.9 L1683.2 792.5 L1684.2 792.1 L1685.2 791.7 L1686.2 791.3 L1687.2 790.8 L1688.2 790.3 L1689.2 789.8 L1690.2 789.3 L1691.2 788.8 L1692.2 788.2 L1693.2 787.6 L1694.2 787.1 L1695.2 786.4 L1696.2 785.8 L1697.2 785.2 L1698.2 784.5 L1699.2 783.9 L1700.2 783.2 L1701.2 782.6 L1702.2 781.9 L1703.2 781.3 L1704.2 780.6 L1705.2 780 L1706.2 779.3 L1707.2 778.7 L1708.2 778.1 L1709.2 777.5 L1710.3 776.9 L1711.3 776.3 L1712.3 775.8 L1713.3 775.3 L1714.3 774.7 L1715.3 774.2 L1716.3 773.7 L1717.3 773.2 L1718.3 772.8 L1719.3 772.3 L1720.3 771.9 L1721.3 771.4 L1722.3 770.9 L1723.3 770.5 L1724.3 770 L1725.3 769.6 L1726.3 769.1 L1727.3 768.7 L1728.3 768.2 L1729.3 767.8 L1730.3 767.3 L1731.3 766.8 L1732.3 766.3 L1733.3 765.8 L1734.3 765.3 L1735.3 764.8 L1736.3 764.3 L1737.3 763.7 L1738.3 763.2 L1739.3 762.6 L1740.3 762.1 L1741.3 761.5 L1742.3 760.9 L1743.3 760.3 L1744.3 759.7 L1745.3 759.1 L1746.3 758.4 L1747.3 757.8 L1748.3 757.1 L1749.3 756.4 L1750.3 755.7 L1751.3 754.9 L1752.3 754.2 L1753.3 753.4 L1754.3 752.6 L1755.3 751.8 L1756.3 750.9 L1757.3 750 L1758.3 749.2 L1759.3 748.2 L1760.3 747.3 L1761.3 746.4 L1762.3 745.4 L1763.3 744.4 L1764.3 743.4 L1765.4 742.3 L1766.4 741.3 L1767.4 740.2 L1768.4 739.1 L1769.4 738 L1770.4 736.9 L1771.4 735.7 L1772.4 734.5 L1773.4 733.3 L1774.4 732.1 L1775.4 730.9 L1776.4 729.7 L1777.4 728.4 L1778.4 727.2 L1779.4 726 L1780.4 724.7 L1781.4 723.5 L1782.4 722.3 L1783.4 721.1 L1784.4 719.8 L1785.4 718.6 L1786.4 717.4 L1787.4 716.2 L1788.4 715 L1789.4 713.8 L1790.4 712.5 L1791.4 711.3 L1792.4 710.1 L1792.4 776.6 L1791.4 776.7 L1790.4 776.7 L1789.4 776.8 L1788.4 776.9 L1787.4 777 L1786.4 777.1 L1785.4 777.2 L1784.4 777.3 L1783.4 777.4 L1782.4 777.6 L1781.4 777.7 L1780.4 777.9 L1779.4 778 L1778.3 778.2 L1777.3 778.3 L1776.3 778.5 L1775.3 778.7 L1774.3 778.9 L1773.3 779.1 L1772.3 779.3 L1771.3 779.6 L1770.3 779.8 L1769.3 780 L1768.3 780.3 L1767.3 780.6 L1766.3 780.9 L1765.3 781.2 L1764.3 781.5 L1763.3 781.9 L1762.3 782.3 L1761.3 782.6 L1760.3 783 L1759.3 783.4 L1758.3 783.9 L1757.3 784.3 L1756.3 784.8 L1755.3 785.3 L1754.3 785.8 L1753.3 786.4 L1752.3 786.9 L1751.3 787.5 L1750.2 788.1 L1749.2 788.7 L1748.2 789.4 L1747.2 790 L1746.2 790.7 L1745.2 791.3 L1744.2 792 L1743.2 792.6 L1742.2 793.3 L1741.2 794 L1740.2 794.7 L1739.2 795.4 L1738.2 796.1 L1737.2 796.9 L1736.2 797.6 L1735.2 798.3 L1734.2 799.1 L1733.2 799.8 L1732.2 800.6 L1731.2 801.3 L1730.2 802.1 L1729.2 802.8 L1728.2 803.6 L1727.2 804.4 L1726.2 805.1 L1725.2 805.9 L1724.2 806.6 L1723.1 807.3 L1722.1 808.1 L1721.1 808.8 L1720.1 809.5 L1719.1 810.2 L1718.1 810.9 L1717.1 811.6 L1716.1 812.3 L1715.1 813 L1714.1 813.6 L1713.1 814.3 L1712.1 815 L1711.1 815.6 L1710.1 816.3 L1709.1 816.9 L1708.1 817.6 L1707.1 818.3 L1706.1 818.9 L1705.1 819.6 L1704.1 820.2 L1703.1 820.9 L1702.1 821.5 L1701.1 822.2 L1700.1 822.9 L1699.1 823.5 L1698.1 824.2 L1697.1 824.9 L1696.1 825.6 L1695 826.2 L1694 826.9 L1693 827.6 L1692 828.3 L1691 829 L1690 829.7 L1689 830.4 L1688 831.1 L1687 831.8 L1686 832.5 L1685 833.3 L1684 834 L1683 834.8 L1682 835.6 L1681 836.4 L1680 837.2 L1679 838 L1678 838.8 L1677 839.6 L1676 840.5 L1675 841.4 L1674 842.3 L1673 843.1 L1672 844.1 L1671 845 L1670 845.9 L1669 846.8 L1667.9 847.8 L1666.9 848.7 L1665.9 849.7 L1664.9 850.6 L1663.9 851.6 L1662.9 852.6 L1661.9 853.6 L1660.9 854.6 L1659.9 855.6 L1658.9 856.6 L1657.9 857.6 L1656.9 858.6 L1655.9 859.7 L1654.9 860.7 L1653.9 861.7 L1652.9 862.7 L1651.9 863.8 L1650.9 864.8 L1649.9 865.8 L1648.9 866.8 L1647.9 867.9 L1646.9 868.9 L1645.9 869.9 L1644.9 871 L1643.9 872 L1642.9 873 L1641.9 874 L1640.8 875.1 L1639.8 876.1 L1638.8 877.1 L1637.8 878.2 L1636.8 879.2 L1635.8 880.2 L1634.8 881.2 L1633.8 882.3 L1632.8 883.3 L1631.8 884.3 L1630.8 885.3 L1629.8 886.4 L1628.8 887.4 L1627.8 888.4 L1626.8 889.4 L1625.8 890.5 L1624.8 891.5 L1623.8 892.5 L1622.8 893.5 L1621.8 894.6 L1620.8 895.6 L1619.8 896.6 L1618.8 897.6 L1617.8 898.6 L1616.8 899.7 L1615.8 900.7 L1614.8 901.7 L1613.8 902.7 L1612.7 903.7 L1611.7 904.8 L1610.7 905.8 L1609.7 906.8 L1608.7 907.8 L1607.7 908.8 L1606.7 909.8 L1605.7 910.8 L1604.7 911.9 L1603.7 912.9 L1602.7 913.9 L1601.7 914.9 L1600.7 915.9 L1599.7 916.9 L1598.7 917.9 L1597.7 918.9 L1596.7 919.9 L1595.7 920.9 L1594.7 921.9 L1593.7 922.9 L1592.7 923.9 L1591.7 924.9 L1590.7 925.9 L1589.7 926.9 L1588.7 927.9 L1587.7 928.9 L1586.7 929.9 L1585.6 930.9 L1584.6 931.9 L1583.6 932.9 L1582.6 933.8 L1581.6 934.8 L1580.6 935.8 L1579.6 936.8 L1578.6 937.8 L1577.6 938.8 L1576.6 939.8 L1575.6 940.8 L1574.6 941.8 L1573.6 942.7 L1572.6 943.7 L1571.6 944.7 L1570.6 945.7 L1569.6 946.7 L1568.6 947.7 L1567.6 948.6 L1566.6 949.6 L1565.6 950.6 L1564.6 951.6 L1563.6 952.6 L1562.6 953.5 L1561.6 954.5 L1560.6 955.5 L1559.6 956.5 L1558.6 957.4 L1557.5 958.4 L1556.5 959.4 L1555.5 960.4 L1554.5 961.3 L1553.5 962.3 L1552.5 963.3 L1551.5 964.2 L1550.5 965.2 L1549.5 966.2 L1548.5 967.1 L1547.5 968.1 L1546.5 969.1 L1545.5 970 L1544.5 971 L1516.9 971 Z" fill="#999999" fill-opacity="0.4"/>
<path d="M1516.5 900.3 L1517.5 899.8 L1518.5 899.3 L1519.5 898.7 L1520.5 898.2 L1521.5 897.7 L1522.5 897.2 L1523.5 896.7 L1524.5 896.2 L1525.5 895.6 L1526.5 895.1 L1527.5 894.6 L1528.5 894.1 L1529.6 893.6 L1530.6 893 L1531.6 892.5 L1532.6 892 L1533.6 891.5 L1534.6 891 L1535.6 890.5 L1536.6 889.9 L1537.6 889.4 L1538.6 888.9 L1539.6 888.4 L1540.6 887.9 L1541.6 887.4 L1542.6 886.8 L1543.6 886.3 L1544.6 885.8 L1545.6 885.3 L1546.6 884.8 L1547.6 884.2 L1548.6 883.7 L1549.6 883.2 L1550.6 882.7 L1551.6 882.2 L1552.6 881.7 L1553.7 881.1 L1554.7 880.6 L1555.7 880.1 L1556.7 879.6 L1557.7 879.1 L1558.7 878.6 L1559.7 878 L1560.7 877.5 L1561.7 877 L1562.7 876.5 L1563.7 876 L1564.7 875.4 L1565.7 874.9 L1566.7 874.4 L1567.7 873.9 L1568.7 873.4 L1569.7 872.9 L1570.7 872.3 L1571.7 871.8 L1572.7 871.3 L1573.7 870.8 L1574.7 870.3 L1575.7 869.8 L1576.7 869.2 L1577.8 868.7 L1578.8 868.2 L1579.8 867.7 L1580.8 867.2 L1581.8 866.6 L1582.8 866.1 L1583.8 865.6 L1584.8 865.1 L1585.8 864.6 L1586.8 864.1 L1587.8 863.5 L1588.8 863 L1589.8 862.5 L1590.8 862 L1591.8 861.5 L1592.8 861 L1593.8 860.4 L1594.8 859.9 L1595.8 859.4 L1596.8 858.9 L1597.8 858.4 L1598.8 857.9 L1599.8 857.3 L1600.8 856.8 L1601.8 856.3 L1602.9 855.8 L1603.9 855.3 L1604.9 854.7 L1605.9 854.2 L1606.9 853.7 L1607.9 853.2 L1608.9 852.7 L1609.9 852.2 L1610.9 851.6 L1611.9 851.1 L1612.9 850.6 L1613.9 850.1 L1614.9 849.6 L1615.9 849.1 L1616.9 848.5 L1617.9 848 L1618.9 847.5 L1619.9 847 L1620.9 846.5 L1621.9 846 L1622.9 845.4 L1623.9 844.9 L1624.9 844.4 L1625.9 843.9 L1627 843.4 L1628 842.9 L1629 842.3 L1630 841.8 L1631 841.3 L1632 840.8 L1633 840.3 L1634 839.8 L1635 839.2 L1636 838.7 L1637 838.2 L1638 837.7 L1639 837.2 L1640 836.7 L1641 836.1 L1642 835.6 L1643 835.1 L1644 834.6 L1645 834.1 L1646 833.5 L1647 833 L1648 832.5 L1649 832 L1650 831.5 L1651.1 831 L1652.1 830.4 L1653.1 829.9 L1654.1 829.4 L1655.1 828.9 L1656.1 828.4 L1657.1 827.8 L1658.1 827.3 L1659.1 826.8 L1660.1 826.3 L1661.1 825.8 L1662.1 825.2 L1663.1 824.7 L1664.1 824.2 L1665.1 823.7 L1666.1 823.2 L1667.1 822.6 L1668.1 822.1 L1669.1 821.6 L1670.1 821.1 L1671.1 820.5 L1672.1 820 L1673.1 819.5 L1674.1 819 L1675.2 818.5 L1676.2 817.9 L1677.2 817.4 L1678.2 816.9 L1679.2 816.4 L1680.2 815.9 L1681.2 815.3 L1682.2 814.8 L1683.2 814.3 L1684.2 813.8 L1685.2 813.2 L1686.2 812.7 L1687.2 812.2" fill="none" stroke="#D40000" stroke-width="4.4"/>
<path d="M1748.3 775 L1793.2 743.3" fill="none" stroke="#D40000" stroke-width="4.4"/>
<line x1="1503.6" x2="1808" y1="790.65" y2="790.65" stroke="#6E6E6E" stroke-width="3.8"/>
<line x1="1596" x2="1596" y1="989.77" y2="591.53" stroke="#6F6F6F" stroke-width="4.0" stroke-dasharray="15 15"/>
<line x1="1781.6" x2="1781.6" y1="989.77" y2="591.53" stroke="#6F6F6F" stroke-width="4.0" stroke-dasharray="15 15"/>
</g>
<line x1="1503.6" x2="1503.6" y1="591.53" y2="989.77" stroke="#000" stroke-width="4.4"/>
<line x1="1503.6" x2="1808" y1="989.77" y2="989.77" stroke="#000" stroke-width="4.4"/>
<line x1="1493" x2="1503.6" y1="971.67" y2="971.67" stroke="#000" stroke-width="4.3"/>
<text transform="translate(1480.35 982.07) scale(1 1.015)" text-anchor="end">−2</text>
<line x1="1493" x2="1503.6" y1="881.16" y2="881.16" stroke="#000" stroke-width="4.3"/>
<text transform="translate(1480.35 891.56) scale(1 1.015)" text-anchor="end">−1</text>
<line x1="1493" x2="1503.6" y1="790.65" y2="790.65" stroke="#000" stroke-width="4.3"/>
<text transform="translate(1480.35 801.05) scale(1 1.015)" text-anchor="end">0</text>
<line x1="1493" x2="1503.6" y1="700.14" y2="700.14" stroke="#000" stroke-width="4.3"/>
<text transform="translate(1480.35 710.54) scale(1 1.015)" text-anchor="end">1</text>
<line x1="1493" x2="1503.6" y1="609.63" y2="609.63" stroke="#000" stroke-width="4.3"/>
<text transform="translate(1480.35 620.03) scale(1 1.015)" text-anchor="end">2</text>
<line x1="1513.8" x2="1513.8" y1="989.77" y2="1000.37" stroke="#000" stroke-width="4.3"/>
<text transform="translate(1513.9 1033.2) scale(1 1.015)" text-anchor="middle">−6</text>
<line x1="1603.1" x2="1603.1" y1="989.77" y2="1000.37" stroke="#000" stroke-width="4.3"/>
<text transform="translate(1603.2 1033.2) scale(1 1.015)" text-anchor="middle">−4</text>
<line x1="1692.4" x2="1692.4" y1="989.77" y2="1000.37" stroke="#000" stroke-width="4.3"/>
<text transform="translate(1692.5 1033.2) scale(1 1.015)" text-anchor="middle">−2</text>
<line x1="1781.7" x2="1781.7" y1="989.77" y2="1000.37" stroke="#000" stroke-width="4.3"/>
<text transform="translate(1781.8 1033.2) scale(1 1.015)" text-anchor="middle">0</text>
<text transform="translate(1426.3 795) rotate(-90) scale(1 1.015)" text-anchor="middle">Log odds</text>
<text transform="translate(1501 561.06) scale(1 1.015)">Skewness SpO2</text>
</g>
</g></svg>
</body></html>
